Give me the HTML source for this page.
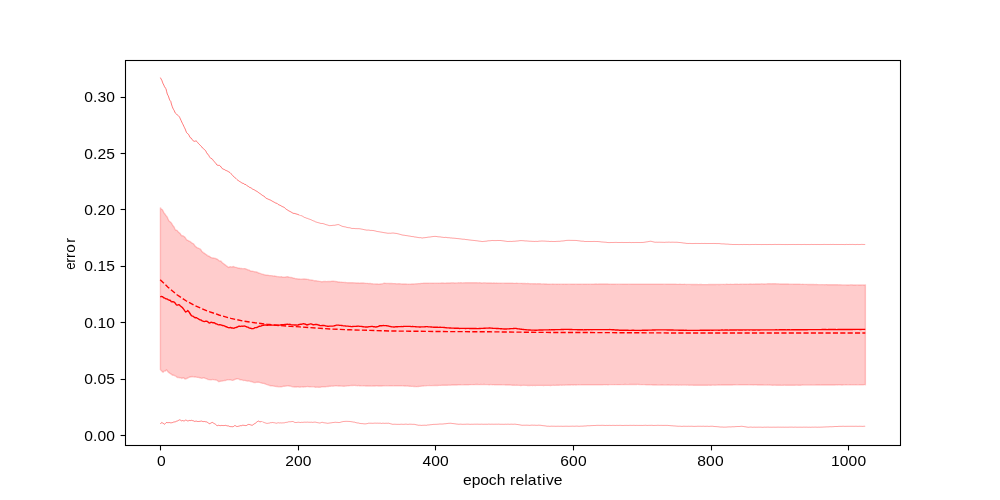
<!DOCTYPE html>
<html><head><meta charset="utf-8"><title>plot</title>
<style>
html,body{margin:0;padding:0;background:#fff;}
body{width:1000px;height:500px;overflow:hidden;font-family:"Liberation Sans",sans-serif;}
svg{display:block;will-change:transform;}
text{font-family:"Liberation Sans",sans-serif;fill:#000;filter:grayscale(1);}
</style></head><body>
<svg width="1000" height="500" viewBox="0 0 1000 500">
<rect x="0" y="0" width="1000" height="500" fill="#ffffff"/>
<polygon points="160.40,207.40 161.09,209.01 161.78,209.30 162.47,209.87 163.15,211.16 163.84,212.55 164.53,213.53 165.22,214.45 165.91,215.45 166.60,216.22 167.28,217.20 167.97,218.80 168.66,220.29 169.35,221.28 170.04,221.80 170.73,222.37 171.42,223.11 172.10,224.21 172.79,225.57 173.48,226.32 174.17,227.15 174.86,228.77 175.55,229.99 176.23,230.29 176.92,230.37 177.61,231.12 178.30,232.09 178.99,232.60 179.68,233.01 180.37,233.86 181.05,235.05 181.74,235.71 182.43,235.66 183.12,235.97 183.81,236.41 184.50,236.77 185.19,237.59 185.87,238.71 186.56,239.75 187.25,240.06 187.94,240.25 188.63,240.99 189.32,241.30 190.00,241.41 190.69,241.99 191.38,242.57 192.07,243.08 192.76,243.44 193.45,243.74 194.14,244.65 194.82,245.73 195.51,246.40 196.20,246.97 196.89,247.58 197.58,247.87 198.27,248.05 198.95,248.41 199.64,248.74 200.33,249.15 201.02,249.94 201.71,251.10 202.40,251.92 203.09,252.41 203.77,252.99 204.46,253.35 205.15,253.85 205.84,254.40 206.53,254.70 207.22,255.40 207.90,255.91 208.59,255.98 209.28,256.31 209.97,256.83 210.66,257.33 211.35,257.62 212.04,257.86 212.72,258.03 213.41,257.97 214.10,258.07 214.79,258.38 215.48,258.47 216.17,258.74 216.86,259.02 217.54,259.31 218.23,259.96 218.92,260.64 219.61,260.93 220.30,260.98 220.99,261.22 221.67,261.93 222.36,262.69 223.05,263.21 223.74,263.75 224.43,264.36 225.12,264.85 225.81,265.41 226.49,265.95 227.18,266.30 227.87,266.97 228.56,267.37 229.25,267.12 229.94,266.70 230.62,266.72 231.31,266.92 232.00,266.94 232.69,266.70 233.38,266.58 234.07,266.79 234.76,267.16 235.44,267.34 236.13,267.41 236.82,267.57 237.51,267.84 238.20,268.05 238.89,268.10 239.57,268.28 240.26,268.48 240.95,268.44 241.64,268.47 242.33,268.63 243.02,268.66 243.71,268.67 244.39,268.60 245.08,268.61 245.77,268.90 246.46,269.23 247.15,269.49 247.84,269.72 248.53,269.89 249.21,270.13 249.90,270.62 250.59,271.04 251.28,271.12 251.97,271.11 252.66,271.27 253.34,271.38 254.03,271.57 254.72,271.83 255.41,271.84 256.10,271.83 256.79,272.09 257.48,272.43 258.16,272.75 258.85,273.01 259.54,273.16 260.23,273.43 260.92,273.68 261.61,273.89 262.29,274.19 262.98,274.36 263.67,274.54 264.36,274.78 265.05,274.93 265.74,275.02 266.43,275.19 267.11,275.24 267.80,275.25 268.49,275.34 269.18,275.50 269.87,275.60 270.56,275.59 271.24,275.65 271.93,275.68 272.62,275.84 273.31,276.13 274.00,276.05 274.69,276.03 275.38,276.24 276.06,276.33 276.75,276.49 277.44,276.65 278.13,276.65 278.82,276.70 279.51,276.84 280.19,276.88 280.88,276.78 281.57,276.80 282.26,276.98 282.95,277.12 283.64,277.19 284.33,277.22 285.01,277.12 285.70,276.98 286.39,276.87 287.08,276.77 287.77,276.78 288.46,276.97 289.15,277.24 289.83,277.41 290.52,277.46 291.21,277.50 291.90,277.61 292.59,277.85 293.28,278.09 293.96,278.21 294.65,278.37 295.34,278.65 296.03,278.79 296.72,278.76 297.41,278.82 298.10,278.96 298.78,279.00 299.47,279.02 300.16,279.07 300.85,279.14 301.54,279.19 302.23,279.14 302.91,279.05 303.60,279.01 304.29,278.96 304.98,279.01 305.67,279.11 306.36,279.19 307.05,279.33 307.73,279.41 308.42,279.53 309.11,279.71 309.80,279.82 310.49,279.92 311.18,280.01 311.86,280.12 312.55,280.26 313.24,280.45 313.93,280.67 314.62,280.79 315.31,280.78 316.00,280.72 316.68,280.86 317.37,281.05 318.06,281.14 318.75,281.28 319.44,281.35 320.13,281.38 320.82,281.57 321.50,281.75 322.19,281.71 322.88,281.58 323.57,281.52 324.26,281.46 324.95,281.39 325.63,281.48 326.32,281.62 327.01,281.57 327.70,281.48 328.39,281.50 329.08,281.49 329.77,281.45 330.45,281.45 331.14,281.37 331.83,281.31 332.52,281.29 333.21,281.21 333.90,281.29 334.58,281.43 335.27,281.47 335.96,281.54 336.65,281.60 337.34,281.76 338.03,281.97 338.72,281.99 339.40,282.00 340.09,282.08 340.78,282.13 341.47,282.20 342.16,282.31 342.85,282.35 343.53,282.34 344.22,282.43 344.91,282.49 345.60,282.53 346.29,282.61 346.98,282.65 347.67,282.73 348.35,282.76 349.04,282.74 349.73,282.75 350.42,282.72 351.11,282.66 351.80,282.69 352.48,282.75 353.17,282.79 353.86,282.83 354.55,282.84 355.24,282.87 355.93,283.00 356.62,283.05 357.30,282.95 357.99,282.92 358.68,282.99 359.37,283.08 360.06,283.08 360.75,282.96 361.44,282.94 362.12,282.97 362.81,282.99 363.50,283.06 364.19,283.16 364.88,283.25 365.57,283.37 366.25,283.41 366.94,283.34 367.63,283.35 368.32,283.47 369.01,283.57 369.70,283.53 370.39,283.53 371.07,283.64 371.76,283.72 372.45,283.78 373.14,283.88 373.83,283.92 374.52,283.91 375.20,283.92 375.89,283.97 376.58,283.98 377.27,283.98 377.96,284.05 378.65,284.10 379.34,284.07 380.02,284.02 380.71,284.01 381.40,283.92 382.09,283.81 382.78,283.67 383.47,283.44 384.15,283.28 384.84,283.28 385.53,283.36 386.22,283.39 386.91,283.43 387.60,283.42 388.29,283.38 388.97,283.47 389.66,283.56 390.35,283.47 391.04,283.42 391.73,283.49 392.42,283.56 393.11,283.59 393.79,283.60 394.48,283.59 395.17,283.60 395.86,283.73 396.55,283.85 397.24,283.82 397.92,283.75 398.61,283.73 399.30,283.72 399.99,283.81 400.68,283.87 401.37,283.88 402.06,283.94 402.74,284.00 403.43,284.04 404.12,284.05 404.81,284.01 405.50,283.97 406.19,283.99 406.87,284.08 407.56,284.15 408.25,284.21 408.94,284.24 409.63,284.15 410.32,284.10 411.01,284.08 411.69,284.04 412.38,284.00 413.07,283.97 413.76,283.96 414.45,283.91 415.14,283.87 415.82,283.84 416.51,283.78 417.20,283.69 417.89,283.65 418.58,283.62 419.27,283.61 419.96,283.57 420.64,283.45 421.33,283.36 422.02,283.36 422.71,283.33 423.40,283.27 424.09,283.24 424.77,283.22 425.46,283.20 426.15,283.24 426.84,283.26 427.53,283.23 428.22,283.21 428.91,283.22 429.59,283.16 430.28,283.10 430.97,283.14 431.66,283.21 432.35,283.27 433.04,283.29 433.73,283.24 434.41,283.16 435.10,283.12 435.79,283.14 436.48,283.19 437.17,283.17 437.86,283.11 438.54,283.11 439.23,283.17 439.92,283.18 440.61,283.11 441.30,283.04 441.99,283.02 442.68,283.01 443.36,283.03 444.05,283.07 444.74,283.09 445.43,283.09 446.12,283.06 446.81,283.01 447.49,282.99 448.18,282.97 448.87,282.99 449.56,283.01 450.25,282.94 450.94,282.87 451.63,282.87 452.31,282.86 453.00,282.83 453.69,282.86 454.38,282.95 455.07,282.96 455.76,282.91 456.44,282.92 457.13,282.90 457.82,282.83 458.51,282.82 459.20,282.83 459.89,282.80 460.58,282.75 461.26,282.78 461.95,282.85 462.64,282.88 463.33,282.86 464.02,282.82 464.71,282.83 465.40,282.78 466.08,282.72 466.77,282.73 467.46,282.73 468.15,282.72 468.84,282.73 469.53,282.75 470.21,282.74 470.90,282.74 471.59,282.77 472.28,282.76 472.97,282.77 473.66,282.80 474.35,282.77 475.03,282.74 475.72,282.74 476.41,282.73 477.10,282.80 477.79,282.86 478.48,282.83 479.16,282.80 479.85,282.80 480.54,282.84 481.23,282.93 481.92,282.93 482.61,282.88 483.30,282.87 483.98,282.86 484.67,282.86 485.36,282.86 486.05,282.89 486.74,282.95 487.43,282.99 488.11,282.99 488.80,282.95 489.49,282.93 490.18,282.95 490.87,282.98 491.56,283.03 492.25,283.07 492.93,283.06 493.62,283.01 494.31,282.99 495.00,283.08 495.69,283.10 496.38,283.05 497.07,283.08 497.75,283.12 498.44,283.12 499.13,283.15 499.82,283.12 500.51,283.11 501.20,283.18 501.88,283.17 502.57,283.16 503.26,283.16 503.95,283.16 504.64,283.20 505.33,283.21 506.02,283.20 506.70,283.22 507.39,283.25 508.08,283.26 508.77,283.25 509.46,283.26 510.15,283.26 510.83,283.24 511.52,283.25 512.21,283.24 512.90,283.27 513.59,283.33 514.28,283.35 514.97,283.37 515.65,283.36 516.34,283.29 517.03,283.27 517.72,283.32 518.41,283.38 519.10,283.38 519.78,283.39 520.47,283.40 521.16,283.36 521.85,283.37 522.54,283.48 523.23,283.56 523.92,283.53 524.60,283.49 525.29,283.54 525.98,283.59 526.67,283.59 527.36,283.56 528.05,283.56 528.73,283.60 529.42,283.66 530.11,283.73 530.80,283.74 531.49,283.67 532.18,283.65 532.87,283.69 533.55,283.71 534.24,283.75 534.93,283.78 535.62,283.80 536.31,283.83 537.00,283.80 537.69,283.75 538.37,283.74 539.06,283.77 539.75,283.78 540.44,283.81 541.13,283.89 541.82,283.92 542.50,283.90 543.19,283.88 543.88,283.87 544.57,283.95 545.26,284.00 545.95,283.96 546.64,284.00 547.32,284.07 548.01,284.07 548.70,284.07 549.39,284.09 550.08,284.09 550.77,284.13 551.45,284.14 552.14,284.08 552.83,284.07 553.52,284.12 554.21,284.17 554.90,284.19 555.59,284.15 556.27,284.09 556.96,284.08 557.65,284.12 558.34,284.13 559.03,284.10 559.72,284.12 560.40,284.16 561.09,284.16 561.78,284.13 562.47,284.12 563.16,284.11 563.85,284.11 564.54,284.16 565.22,284.25 565.91,284.29 566.60,284.23 567.29,284.19 567.98,284.18 568.67,284.15 569.36,284.15 570.04,284.17 570.73,284.23 571.42,284.25 572.11,284.20 572.80,284.19 573.49,284.22 574.17,284.22 574.86,284.20 575.55,284.18 576.24,284.15 576.93,284.19 577.62,284.24 578.31,284.22 578.99,284.19 579.68,284.18 580.37,284.21 581.06,284.21 581.75,284.18 582.44,284.17 583.12,284.21 583.81,284.23 584.50,284.21 585.19,284.21 585.88,284.23 586.57,284.22 587.26,284.16 587.94,284.11 588.63,284.10 589.32,284.11 590.01,284.14 590.70,284.13 591.39,284.10 592.07,284.07 592.76,284.07 593.45,284.09 594.14,284.08 594.83,284.05 595.52,284.03 596.21,284.01 596.89,284.04 597.58,284.08 598.27,284.06 598.96,284.00 599.65,283.97 600.34,283.98 601.02,284.04 601.71,284.05 602.40,283.98 603.09,283.96 603.78,283.99 604.47,283.98 605.16,283.97 605.84,284.02 606.53,284.04 607.22,284.01 607.91,284.05 608.60,284.11 609.29,284.10 609.98,284.11 610.66,284.15 611.35,284.12 612.04,284.08 612.73,284.09 613.42,284.09 614.11,284.09 614.79,284.09 615.48,284.11 616.17,284.13 616.86,284.16 617.55,284.18 618.24,284.16 618.93,284.16 619.61,284.15 620.30,284.11 620.99,284.15 621.68,284.19 622.37,284.20 623.06,284.27 623.74,284.31 624.43,284.26 625.12,284.22 625.81,284.23 626.50,284.22 627.19,284.19 627.88,284.22 628.56,284.18 629.25,284.12 629.94,284.15 630.63,284.21 631.32,284.24 632.01,284.25 632.69,284.27 633.38,284.26 634.07,284.22 634.76,284.20 635.45,284.26 636.14,284.30 636.83,284.25 637.51,284.19 638.20,284.24 638.89,284.31 639.58,284.29 640.27,284.25 640.96,284.27 641.65,284.29 642.33,284.27 643.02,284.23 643.71,284.22 644.40,284.27 645.09,284.31 645.78,284.30 646.46,284.31 647.15,284.30 647.84,284.28 648.53,284.28 649.22,284.29 649.91,284.31 650.60,284.28 651.28,284.25 651.97,284.25 652.66,284.26 653.35,284.27 654.04,284.27 654.73,284.24 655.41,284.21 656.10,284.25 656.79,284.27 657.48,284.24 658.17,284.27 658.86,284.26 659.55,284.20 660.23,284.18 660.92,284.21 661.61,284.20 662.30,284.20 662.99,284.21 663.68,284.17 664.36,284.14 665.05,284.15 665.74,284.19 666.43,284.23 667.12,284.23 667.81,284.22 668.50,284.21 669.18,284.21 669.87,284.24 670.56,284.29 671.25,284.25 671.94,284.17 672.63,284.21 673.32,284.27 674.00,284.24 674.69,284.25 675.38,284.27 676.07,284.28 676.76,284.34 677.45,284.36 678.13,284.33 678.82,284.33 679.51,284.30 680.20,284.29 680.89,284.34 681.58,284.35 682.27,284.36 682.95,284.36 683.64,284.32 684.33,284.31 685.02,284.35 685.71,284.41 686.40,284.45 687.08,284.42 687.77,284.39 688.46,284.41 689.15,284.42 689.84,284.38 690.53,284.40 691.22,284.47 691.90,284.50 692.59,284.50 693.28,284.50 693.97,284.50 694.66,284.50 695.35,284.48 696.03,284.47 696.72,284.48 697.41,284.54 698.10,284.60 698.79,284.58 699.48,284.54 700.17,284.54 700.85,284.54 701.54,284.56 702.23,284.58 702.92,284.60 703.61,284.60 704.30,284.59 704.98,284.61 705.67,284.61 706.36,284.57 707.05,284.57 707.74,284.58 708.43,284.55 709.12,284.51 709.80,284.50 710.49,284.53 711.18,284.50 711.87,284.48 712.56,284.49 713.25,284.48 713.94,284.51 714.62,284.54 715.31,284.51 716.00,284.47 716.69,284.40 717.38,284.41 718.07,284.47 718.75,284.45 719.44,284.45 720.13,284.47 720.82,284.43 721.51,284.40 722.20,284.40 722.89,284.38 723.57,284.36 724.26,284.38 724.95,284.43 725.64,284.38 726.33,284.26 727.02,284.26 727.70,284.34 728.39,284.35 729.08,284.35 729.77,284.33 730.46,284.31 731.15,284.33 731.84,284.35 732.52,284.33 733.21,284.33 733.90,284.32 734.59,284.28 735.28,284.27 735.97,284.29 736.65,284.26 737.34,284.24 738.03,284.29 738.72,284.32 739.41,284.30 740.10,284.26 740.79,284.22 741.47,284.19 742.16,284.17 742.85,284.18 743.54,284.18 744.23,284.18 744.92,284.19 745.61,284.12 746.29,284.08 746.98,284.12 747.67,284.15 748.36,284.12 749.05,284.07 749.74,284.05 750.42,284.02 751.11,284.03 751.80,284.08 752.49,284.10 753.18,284.07 753.87,284.06 754.56,284.07 755.24,283.98 755.93,283.91 756.62,283.95 757.31,283.99 758.00,283.98 758.69,283.95 759.37,283.98 760.06,283.99 760.75,283.91 761.44,283.85 762.13,283.84 762.82,283.89 763.51,283.93 764.19,283.93 764.88,283.93 765.57,283.91 766.26,283.89 766.95,283.85 767.64,283.80 768.32,283.78 769.01,283.78 769.70,283.78 770.39,283.81 771.08,283.83 771.77,283.78 772.46,283.72 773.14,283.75 773.83,283.80 774.52,283.79 775.21,283.79 775.90,283.81 776.59,283.85 777.27,283.87 777.96,283.84 778.65,283.84 779.34,283.91 780.03,283.94 780.72,283.94 781.41,283.95 782.09,283.99 782.78,284.03 783.47,284.03 784.16,283.99 784.85,283.99 785.54,284.02 786.23,284.05 786.91,284.05 787.60,284.00 788.29,283.99 788.98,284.07 789.67,284.14 790.36,284.17 791.04,284.20 791.73,284.18 792.42,284.17 793.11,284.19 793.80,284.21 794.49,284.23 795.18,284.24 795.86,284.24 796.55,284.25 797.24,284.23 797.93,284.21 798.62,284.21 799.31,284.22 799.99,284.30 800.68,284.39 801.37,284.42 802.06,284.37 802.75,284.31 803.44,284.34 804.13,284.40 804.81,284.40 805.50,284.38 806.19,284.36 806.88,284.40 807.57,284.46 808.26,284.46 808.94,284.44 809.63,284.42 810.32,284.44 811.01,284.50 811.70,284.52 812.39,284.50 813.08,284.50 813.76,284.51 814.45,284.56 815.14,284.58 815.83,284.54 816.52,284.56 817.21,284.59 817.90,284.60 818.58,284.66 819.27,284.67 819.96,284.63 820.65,284.66 821.34,284.67 822.03,284.62 822.71,284.63 823.40,284.65 824.09,284.66 824.78,284.68 825.47,284.65 826.16,284.61 826.85,284.62 827.53,284.69 828.22,284.73 828.91,284.73 829.60,284.72 830.29,284.75 830.98,284.80 831.66,284.78 832.35,284.74 833.04,284.77 833.73,284.81 834.42,284.79 835.11,284.78 835.80,284.79 836.48,284.80 837.17,284.81 837.86,284.81 838.55,284.85 839.24,284.85 839.93,284.82 840.61,284.84 841.30,284.84 841.99,284.90 842.68,284.92 843.37,284.89 844.06,284.90 844.75,284.92 845.43,284.90 846.12,284.90 846.81,284.95 847.50,284.96 848.19,284.92 848.88,284.93 849.57,284.91 850.25,284.85 850.94,284.84 851.63,284.83 852.32,284.86 853.01,284.96 853.70,284.99 854.38,284.97 855.07,284.95 855.76,284.94 856.45,284.92 857.14,284.91 857.83,284.92 858.52,284.96 859.20,284.98 859.89,284.96 860.58,284.94 861.27,284.94 861.96,284.92 862.65,284.92 863.33,284.95 864.02,284.95 864.71,284.94 865.40,284.95 865.40,384.75 864.71,384.67 864.02,384.68 863.33,384.72 862.65,384.74 861.96,384.77 861.27,384.78 860.58,384.75 859.89,384.74 859.20,384.77 858.52,384.82 857.83,384.85 857.14,384.82 856.45,384.78 855.76,384.78 855.07,384.81 854.38,384.84 853.70,384.81 853.01,384.82 852.32,384.88 851.63,384.87 850.94,384.81 850.25,384.75 849.57,384.77 848.88,384.82 848.19,384.85 847.50,384.86 846.81,384.89 846.12,384.92 845.43,384.90 844.75,384.83 844.06,384.83 843.37,384.89 842.68,384.97 841.99,384.99 841.30,384.94 840.61,384.90 839.93,384.90 839.24,384.90 838.55,384.89 837.86,384.92 837.17,384.93 836.48,384.89 835.80,384.92 835.11,385.01 834.42,385.01 833.73,384.97 833.04,384.95 832.35,384.95 831.66,384.97 830.98,384.99 830.29,385.01 829.60,384.99 828.91,384.99 828.22,385.02 827.53,385.02 826.85,385.02 826.16,385.02 825.47,385.00 824.78,385.01 824.09,385.03 823.40,385.02 822.71,385.00 822.03,385.00 821.34,385.04 820.65,385.07 819.96,385.05 819.27,385.04 818.58,385.06 817.90,385.04 817.21,385.01 816.52,384.98 815.83,385.03 815.14,385.09 814.45,385.08 813.76,385.08 813.08,385.10 812.39,385.09 811.70,385.07 811.01,385.05 810.32,385.07 809.63,385.10 808.94,385.12 808.26,385.12 807.57,385.10 806.88,385.10 806.19,385.12 805.50,385.11 804.81,385.09 804.13,385.08 803.44,385.07 802.75,385.06 802.06,385.12 801.37,385.18 800.68,385.19 799.99,385.19 799.31,385.19 798.62,385.19 797.93,385.20 797.24,385.18 796.55,385.15 795.86,385.16 795.18,385.19 794.49,385.20 793.80,385.18 793.11,385.18 792.42,385.20 791.73,385.22 791.04,385.22 790.36,385.22 789.67,385.23 788.98,385.25 788.29,385.23 787.60,385.22 786.91,385.23 786.23,385.21 785.54,385.20 784.85,385.18 784.16,385.16 783.47,385.20 782.78,385.26 782.09,385.32 781.41,385.32 780.72,385.26 780.03,385.24 779.34,385.25 778.65,385.27 777.96,385.28 777.27,385.27 776.59,385.24 775.90,385.19 775.21,385.16 774.52,385.14 773.83,385.16 773.14,385.22 772.46,385.21 771.77,385.16 771.08,385.14 770.39,385.10 769.70,385.05 769.01,385.08 768.32,385.10 767.64,385.06 766.95,385.07 766.26,385.08 765.57,385.08 764.88,385.09 764.19,385.09 763.51,385.06 762.82,385.00 762.13,384.95 761.44,384.92 760.75,384.95 760.06,384.97 759.37,384.96 758.69,384.98 758.00,385.00 757.31,384.98 756.62,384.93 755.93,384.90 755.24,384.91 754.56,384.91 753.87,384.91 753.18,384.93 752.49,384.92 751.80,384.89 751.11,384.89 750.42,384.88 749.74,384.87 749.05,384.89 748.36,384.86 747.67,384.77 746.98,384.76 746.29,384.77 745.61,384.74 744.92,384.74 744.23,384.74 743.54,384.73 742.85,384.72 742.16,384.72 741.47,384.72 740.79,384.69 740.10,384.72 739.41,384.77 738.72,384.79 738.03,384.82 737.34,384.86 736.65,384.86 735.97,384.86 735.28,384.89 734.59,384.90 733.90,384.89 733.21,384.91 732.52,384.95 731.84,384.95 731.15,384.94 730.46,384.92 729.77,384.94 729.08,385.00 728.39,385.02 727.70,384.95 727.02,384.92 726.33,384.95 725.64,384.95 724.95,384.96 724.26,385.00 723.57,385.00 722.89,384.96 722.20,384.96 721.51,385.00 720.82,385.05 720.13,385.07 719.44,385.03 718.75,385.02 718.07,385.04 717.38,385.08 716.69,385.12 716.00,385.13 715.31,385.14 714.62,385.15 713.94,385.13 713.25,385.09 712.56,385.11 711.87,385.15 711.18,385.20 710.49,385.24 709.80,385.22 709.12,385.16 708.43,385.17 707.74,385.23 707.05,385.28 706.36,385.29 705.67,385.28 704.98,385.27 704.30,385.22 703.61,385.22 702.92,385.22 702.23,385.18 701.54,385.18 700.85,385.20 700.17,385.19 699.48,385.20 698.79,385.23 698.10,385.23 697.41,385.20 696.72,385.19 696.03,385.21 695.35,385.19 694.66,385.18 693.97,385.21 693.28,385.20 692.59,385.18 691.90,385.16 691.22,385.17 690.53,385.17 689.84,385.18 689.15,385.20 688.46,385.18 687.77,385.12 687.08,385.12 686.40,385.14 685.71,385.12 685.02,385.11 684.33,385.12 683.64,385.10 682.95,385.08 682.27,385.12 681.58,385.13 680.89,385.09 680.20,385.08 679.51,385.11 678.82,385.15 678.13,385.15 677.45,385.10 676.76,385.05 676.07,385.10 675.38,385.15 674.69,385.12 674.00,385.10 673.32,385.09 672.63,385.07 671.94,385.06 671.25,385.12 670.56,385.14 669.87,385.07 669.18,385.03 668.50,385.05 667.81,385.05 667.12,385.06 666.43,385.07 665.74,385.08 665.05,385.08 664.36,385.09 663.68,385.09 662.99,385.06 662.30,385.02 661.61,385.01 660.92,385.04 660.23,385.07 659.55,385.07 658.86,385.07 658.17,385.07 657.48,385.07 656.79,385.06 656.10,385.01 655.41,385.00 654.73,385.02 654.04,384.97 653.35,384.93 652.66,384.95 651.97,384.92 651.28,384.89 650.60,384.86 649.91,384.79 649.22,384.77 648.53,384.78 647.84,384.78 647.15,384.79 646.46,384.75 645.78,384.69 645.09,384.66 644.40,384.62 643.71,384.59 643.02,384.60 642.33,384.65 641.65,384.66 640.96,384.62 640.27,384.58 639.58,384.56 638.89,384.51 638.20,384.41 637.51,384.37 636.83,384.45 636.14,384.49 635.45,384.43 634.76,384.45 634.07,384.54 633.38,384.56 632.69,384.52 632.01,384.51 631.32,384.51 630.63,384.50 629.94,384.52 629.25,384.55 628.56,384.59 627.88,384.62 627.19,384.61 626.50,384.58 625.81,384.56 625.12,384.53 624.43,384.56 623.74,384.63 623.06,384.62 622.37,384.61 621.68,384.61 620.99,384.62 620.30,384.65 619.61,384.67 618.93,384.65 618.24,384.64 617.55,384.64 616.86,384.63 616.17,384.62 615.48,384.61 614.79,384.63 614.11,384.64 613.42,384.62 612.73,384.61 612.04,384.64 611.35,384.62 610.66,384.60 609.98,384.61 609.29,384.61 608.60,384.69 607.91,384.73 607.22,384.69 606.53,384.66 605.84,384.68 605.16,384.69 604.47,384.66 603.78,384.67 603.09,384.73 602.40,384.75 601.71,384.73 601.02,384.72 600.34,384.72 599.65,384.69 598.96,384.71 598.27,384.74 597.58,384.73 596.89,384.71 596.21,384.71 595.52,384.68 594.83,384.69 594.14,384.74 593.45,384.76 592.76,384.74 592.07,384.69 591.39,384.68 590.70,384.72 590.01,384.74 589.32,384.75 588.63,384.75 587.94,384.77 587.26,384.79 586.57,384.78 585.88,384.76 585.19,384.75 584.50,384.72 583.81,384.73 583.12,384.76 582.44,384.77 581.75,384.75 581.06,384.77 580.37,384.84 579.68,384.84 578.99,384.80 578.31,384.79 577.62,384.82 576.93,384.90 576.24,384.97 575.55,384.94 574.86,384.88 574.17,384.92 573.49,384.97 572.80,384.94 572.11,384.90 571.42,384.92 570.73,384.98 570.04,385.05 569.36,385.06 568.67,384.99 567.98,384.98 567.29,385.06 566.60,385.08 565.91,385.06 565.22,385.10 564.54,385.15 563.85,385.14 563.16,385.12 562.47,385.15 561.78,385.18 561.09,385.14 560.40,385.11 559.72,385.14 559.03,385.23 558.34,385.30 557.65,385.27 556.96,385.24 556.27,385.30 555.59,385.37 554.90,385.38 554.21,385.34 553.52,385.32 552.83,385.33 552.14,385.35 551.45,385.41 550.77,385.45 550.08,385.44 549.39,385.41 548.70,385.39 548.01,385.40 547.32,385.42 546.64,385.42 545.95,385.42 545.26,385.42 544.57,385.41 543.88,385.45 543.19,385.46 542.50,385.40 541.82,385.40 541.13,385.38 540.44,385.38 539.75,385.40 539.06,385.40 538.37,385.39 537.69,385.39 537.00,385.39 536.31,385.42 535.62,385.45 534.93,385.45 534.24,385.41 533.55,385.40 532.87,385.45 532.18,385.46 531.49,385.40 530.80,385.40 530.11,385.46 529.42,385.48 528.73,385.48 528.05,385.47 527.36,385.45 526.67,385.40 525.98,385.37 525.29,385.40 524.60,385.36 523.92,385.31 523.23,385.33 522.54,385.37 521.85,385.43 521.16,385.46 520.47,385.44 519.78,385.41 519.10,385.37 518.41,385.36 517.72,385.34 517.03,385.27 516.34,385.28 515.65,385.35 514.97,385.30 514.28,385.23 513.59,385.22 512.90,385.21 512.21,385.21 511.52,385.15 510.83,385.09 510.15,385.04 509.46,385.02 508.77,384.99 508.08,384.97 507.39,384.97 506.70,385.00 506.02,385.01 505.33,384.94 504.64,384.84 503.95,384.80 503.26,384.83 502.57,384.82 501.88,384.80 501.20,384.80 500.51,384.77 499.82,384.72 499.13,384.72 498.44,384.77 497.75,384.77 497.07,384.73 496.38,384.70 495.69,384.71 495.00,384.75 494.31,384.73 493.62,384.67 492.93,384.68 492.25,384.68 491.56,384.62 490.87,384.57 490.18,384.61 489.49,384.69 488.80,384.69 488.11,384.60 487.43,384.58 486.74,384.60 486.05,384.59 485.36,384.59 484.67,384.56 483.98,384.52 483.30,384.53 482.61,384.59 481.92,384.59 481.23,384.56 480.54,384.56 479.85,384.59 479.16,384.63 478.48,384.60 477.79,384.54 477.10,384.51 476.41,384.52 475.72,384.55 475.03,384.60 474.35,384.64 473.66,384.67 472.97,384.63 472.28,384.60 471.59,384.62 470.90,384.64 470.21,384.67 469.53,384.67 468.84,384.70 468.15,384.77 467.46,384.80 466.77,384.79 466.08,384.79 465.40,384.77 464.71,384.76 464.02,384.81 463.33,384.85 462.64,384.86 461.95,384.87 461.26,384.87 460.58,384.89 459.89,384.91 459.20,384.92 458.51,384.92 457.82,384.92 457.13,384.96 456.44,385.02 455.76,385.00 455.07,384.94 454.38,384.96 453.69,385.03 453.00,385.06 452.31,385.03 451.63,385.05 450.94,385.13 450.25,385.17 449.56,385.15 448.87,385.16 448.18,385.18 447.49,385.20 446.81,385.21 446.12,385.25 445.43,385.28 444.74,385.31 444.05,385.31 443.36,385.26 442.68,385.23 441.99,385.26 441.30,385.35 440.61,385.39 439.92,385.38 439.23,385.37 438.54,385.38 437.86,385.45 437.17,385.51 436.48,385.52 435.79,385.50 435.10,385.50 434.41,385.54 433.73,385.58 433.04,385.56 432.35,385.57 431.66,385.61 430.97,385.64 430.28,385.60 429.59,385.55 428.91,385.58 428.22,385.61 427.53,385.59 426.84,385.60 426.15,385.73 425.46,385.84 424.77,385.85 424.09,385.87 423.40,385.98 422.71,386.06 422.02,386.08 421.33,386.17 420.64,386.28 419.96,386.35 419.27,386.40 418.58,386.44 417.89,386.49 417.20,386.58 416.51,386.66 415.82,386.59 415.14,386.54 414.45,386.53 413.76,386.45 413.07,386.36 412.38,386.36 411.69,386.39 411.01,386.32 410.32,386.22 409.63,386.23 408.94,386.22 408.25,386.11 407.56,386.06 406.87,386.09 406.19,386.06 405.50,385.98 404.81,385.95 404.12,385.94 403.43,385.88 402.74,385.82 402.06,385.80 401.37,385.76 400.68,385.71 399.99,385.69 399.30,385.76 398.61,385.79 397.92,385.76 397.24,385.75 396.55,385.77 395.86,385.74 395.17,385.70 394.48,385.73 393.79,385.82 393.11,385.82 392.42,385.75 391.73,385.75 391.04,385.78 390.35,385.79 389.66,385.78 388.97,385.76 388.29,385.82 387.60,385.86 386.91,385.81 386.22,385.82 385.53,385.82 384.84,385.81 384.15,385.85 383.47,385.88 382.78,385.92 382.09,385.97 381.40,386.01 380.71,385.97 380.02,385.98 379.34,386.00 378.65,385.95 377.96,385.94 377.27,385.93 376.58,385.88 375.89,385.90 375.20,385.99 374.52,386.01 373.83,385.95 373.14,385.96 372.45,386.05 371.76,386.11 371.07,386.09 370.39,386.05 369.70,386.06 369.01,386.07 368.32,385.97 367.63,385.92 366.94,385.97 366.25,385.98 365.57,385.94 364.88,385.87 364.19,385.81 363.50,385.81 362.81,385.83 362.12,385.83 361.44,385.85 360.75,385.80 360.06,385.79 359.37,385.75 358.68,385.57 357.99,385.58 357.30,385.68 356.62,385.59 355.93,385.53 355.24,385.53 354.55,385.43 353.86,385.40 353.17,385.47 352.48,385.47 351.80,385.41 351.11,385.46 350.42,385.57 349.73,385.63 349.04,385.70 348.35,385.81 347.67,385.81 346.98,385.82 346.29,385.98 345.60,386.10 344.91,386.13 344.22,386.18 343.53,386.18 342.85,386.16 342.16,386.13 341.47,386.10 340.78,386.08 340.09,386.01 339.40,385.95 338.72,385.95 338.03,385.94 337.34,385.86 336.65,385.81 335.96,385.79 335.27,385.80 334.58,385.86 333.90,386.01 333.21,386.13 332.52,386.13 331.83,386.10 331.14,386.13 330.45,386.21 329.77,386.25 329.08,386.29 328.39,386.45 327.70,386.53 327.01,386.51 326.32,386.58 325.63,386.70 324.95,386.74 324.26,386.71 323.57,386.73 322.88,386.76 322.19,386.79 321.50,386.93 320.82,387.14 320.13,387.26 319.44,387.25 318.75,387.22 318.06,387.22 317.37,387.13 316.68,387.16 316.00,387.28 315.31,387.20 314.62,386.99 313.93,386.86 313.24,386.83 312.55,386.85 311.86,386.84 311.18,386.81 310.49,386.74 309.80,386.65 309.11,386.70 308.42,386.68 307.73,386.55 307.05,386.58 306.36,386.65 305.67,386.77 304.98,386.92 304.29,386.93 303.60,386.95 302.91,387.02 302.23,386.91 301.54,386.84 300.85,386.98 300.16,387.14 299.47,387.15 298.78,387.03 298.10,386.93 297.41,386.90 296.72,386.96 296.03,387.04 295.34,387.01 294.65,386.98 293.96,386.97 293.28,386.87 292.59,386.80 291.90,386.61 291.21,386.31 290.52,386.17 289.83,386.15 289.15,385.96 288.46,385.78 287.77,385.76 287.08,385.86 286.39,385.94 285.70,386.08 285.01,386.27 284.33,386.30 283.64,386.28 282.95,386.39 282.26,386.62 281.57,386.77 280.88,386.76 280.19,386.78 279.51,386.85 278.82,386.85 278.13,386.73 277.44,386.55 276.75,386.47 276.06,386.48 275.38,386.38 274.69,386.30 274.00,386.19 273.31,386.06 272.62,385.90 271.93,385.80 271.24,385.80 270.56,385.71 269.87,385.54 269.18,385.28 268.49,385.04 267.80,384.82 267.11,384.59 266.43,384.45 265.74,384.18 265.05,383.79 264.36,383.53 263.67,383.43 262.98,383.42 262.29,383.30 261.61,383.05 260.92,382.78 260.23,382.60 259.54,382.44 258.85,382.31 258.16,382.31 257.48,382.31 256.79,382.31 256.10,382.35 255.41,382.49 254.72,382.60 254.03,382.45 253.34,382.30 252.66,382.11 251.97,381.74 251.28,381.49 250.59,381.49 249.90,381.37 249.21,381.06 248.53,381.01 247.84,381.14 247.15,381.06 246.46,380.92 245.77,380.70 245.08,380.42 244.39,380.41 243.71,380.50 243.02,380.32 242.33,380.09 241.64,379.94 240.95,379.80 240.26,379.76 239.57,379.50 238.89,379.07 238.20,378.80 237.51,378.67 236.82,378.78 236.13,379.01 235.44,379.21 234.76,379.44 234.07,379.80 233.38,380.17 232.69,380.40 232.00,380.32 231.31,380.08 230.62,379.88 229.94,379.79 229.25,379.88 228.56,379.86 227.87,379.82 227.18,379.93 226.49,380.12 225.81,380.38 225.12,380.53 224.43,380.54 223.74,380.67 223.05,380.84 222.36,380.94 221.67,381.11 220.99,381.20 220.30,381.13 219.61,381.43 218.92,381.75 218.23,381.24 217.54,380.65 216.86,380.28 216.17,380.11 215.48,379.95 214.79,379.85 214.10,379.80 213.41,379.67 212.72,379.49 212.04,379.59 211.35,379.73 210.66,379.77 209.97,379.84 209.28,379.67 208.59,379.62 207.90,379.50 207.22,379.00 206.53,378.69 205.84,378.57 205.15,378.28 204.46,378.02 203.77,377.88 203.09,377.92 202.40,378.19 201.71,378.37 201.02,378.14 200.33,377.93 199.64,377.73 198.95,377.45 198.27,377.43 197.58,377.38 196.89,377.31 196.20,377.07 195.51,376.81 194.82,377.02 194.14,377.06 193.45,376.86 192.76,376.75 192.07,376.56 191.38,376.77 190.69,376.98 190.00,377.04 189.32,377.24 188.63,377.59 187.94,377.92 187.25,378.32 186.56,378.53 185.87,378.81 185.19,379.08 184.50,378.71 183.81,377.97 183.12,377.72 182.43,378.20 181.74,378.37 181.05,377.83 180.37,377.64 179.68,377.72 178.99,377.53 178.30,377.50 177.61,377.53 176.92,377.17 176.23,376.47 175.55,376.08 174.86,375.77 174.17,375.30 173.48,375.20 172.79,375.31 172.10,375.01 171.42,374.35 170.73,373.79 170.04,373.39 169.35,372.94 168.66,372.42 167.97,371.70 167.28,370.89 166.60,370.00 165.91,370.39 165.22,371.03 164.53,371.09 163.84,371.32 163.15,372.22 162.47,371.98 161.78,371.07 161.09,370.40 160.40,369.60" fill="#ff0000" fill-opacity="0.2" stroke="#ff0000" stroke-opacity="0.2" stroke-width="1.39" stroke-linejoin="miter"/>
<polyline points="160.40,77.60 161.09,79.07 161.78,80.11 162.47,82.16 163.16,83.90 163.84,85.03 164.53,86.78 165.22,87.88 165.91,88.47 166.60,91.38 167.29,94.06 167.98,95.30 168.67,96.90 169.36,99.17 170.05,100.57 170.73,101.30 171.42,104.00 172.11,106.22 172.80,108.03 173.49,109.38 174.18,110.47 174.87,112.18 175.56,113.33 176.25,114.03 176.93,114.63 177.62,115.04 178.31,115.63 179.00,116.38 179.69,117.46 180.38,118.97 181.07,120.45 181.76,122.01 182.45,123.43 183.14,124.74 183.82,126.27 184.51,127.71 185.20,129.06 185.89,130.95 186.58,132.59 187.27,133.39 187.96,133.85 188.65,134.53 189.34,135.89 190.03,137.46 190.71,137.90 191.40,138.24 192.09,139.38 192.78,140.48 193.47,140.92 194.16,141.28 194.85,141.27 195.54,141.03 196.23,140.93 196.91,141.56 197.60,142.44 198.29,143.34 198.98,144.15 199.67,144.73 200.36,145.38 201.05,146.09 201.74,146.86 202.43,147.93 203.12,148.50 203.80,148.90 204.49,149.54 205.18,150.27 205.87,151.17 206.56,152.69 207.25,153.75 207.94,154.22 208.63,155.19 209.32,156.50 210.00,157.49 210.69,158.30 211.38,158.58 212.07,158.78 212.76,159.67 213.45,160.69 214.14,161.43 214.83,162.28 215.52,163.04 216.21,163.89 216.89,164.93 217.58,165.25 218.27,165.36 218.96,165.37 219.65,165.44 220.34,166.01 221.03,166.96 221.72,167.93 222.41,168.72 223.09,169.17 223.78,169.25 224.47,169.59 225.16,170.08 225.85,170.41 226.54,170.66 227.23,170.97 227.92,171.34 228.61,171.76 229.30,172.16 229.98,172.63 230.67,173.43 231.36,174.01 232.05,174.62 232.74,175.55 233.43,176.41 234.12,176.97 234.81,177.54 235.50,178.10 236.18,178.60 236.87,179.40 237.56,180.07 238.25,180.50 238.94,180.99 239.63,181.49 240.32,181.88 241.01,182.25 241.70,182.82 242.39,183.19 243.07,183.30 243.76,183.61 244.45,184.24 245.14,184.50 245.83,184.48 246.52,185.20 247.21,185.95 247.90,186.21 248.59,186.58 249.28,187.18 249.96,187.53 250.65,187.72 251.34,188.11 252.03,188.73 252.72,189.18 253.41,189.45 254.10,189.78 254.79,190.14 255.48,190.63 256.16,191.03 256.85,191.33 257.54,191.78 258.23,192.34 258.92,192.88 259.61,193.32 260.30,193.75 260.99,194.25 261.68,194.80 262.37,195.32 263.05,195.79 263.74,196.05 264.43,196.44 265.12,197.34 265.81,198.11 266.50,198.42 267.19,198.70 267.88,199.00 268.57,199.34 269.25,199.63 269.94,199.87 270.63,200.18 271.32,200.57 272.01,201.00 272.70,201.40 273.39,201.75 274.08,202.13 274.77,202.52 275.46,202.94 276.14,203.24 276.83,203.33 277.52,203.71 278.21,204.43 278.90,204.92 279.59,205.09 280.28,205.33 280.97,205.78 281.66,206.23 282.34,206.57 283.03,206.91 283.72,207.18 284.41,207.57 285.10,208.22 285.79,208.88 286.48,209.41 287.17,209.80 287.86,210.25 288.55,210.71 289.23,211.08 289.92,211.40 290.61,211.77 291.30,212.18 291.99,212.58 292.68,213.00 293.37,213.32 294.06,213.45 294.75,213.45 295.43,213.69 296.12,213.93 296.81,214.11 297.50,214.34 298.19,214.58 298.88,214.87 299.57,215.22" fill="none" stroke="#ff0000" stroke-opacity="0.62" stroke-width="0.85"/>
<polyline points="300.26,215.54 300.95,215.64 301.64,215.77 302.32,216.10 303.01,216.47 303.70,216.93 304.39,217.39 305.08,217.59 305.77,217.81 306.46,218.16 307.15,218.31 307.84,218.49 308.53,218.86 309.21,219.10 309.90,219.30 310.59,219.57 311.28,219.87 311.97,220.21 312.66,220.55 313.35,220.85 314.04,221.04 314.73,221.34 315.41,221.79 316.10,222.03 316.79,222.24 317.48,222.44 318.17,222.63 318.86,222.84 319.55,223.03 320.24,223.27 320.93,223.46 321.62,223.47 322.30,223.47 322.99,223.61 323.68,223.77 324.37,224.00 325.06,224.32 325.75,224.54 326.44,224.74 327.13,224.94 327.82,225.09 328.50,225.35 329.19,225.63 329.88,225.62 330.57,225.59 331.26,225.58 331.95,225.44 332.64,225.38 333.33,225.30 334.02,225.26 334.71,225.27 335.39,225.11 336.08,224.89 336.77,224.83 337.46,224.66 338.15,224.50 338.84,224.76 339.53,225.02 340.22,225.33 340.91,225.70 341.59,226.02 342.28,226.30 342.97,226.50 343.66,226.63 344.35,226.75 345.04,226.87 345.73,227.01 346.42,227.25 347.11,227.47 347.80,227.60 348.48,227.68 349.17,227.72 349.86,227.81 350.55,228.00 351.24,228.26 351.93,228.45 352.62,228.48 353.31,228.45 354.00,228.45 354.69,228.55 355.37,228.63 356.06,228.64 356.75,228.65 357.44,228.68 358.13,228.68 358.82,228.68 359.51,228.74 360.20,228.83 360.89,228.98 361.57,229.12 362.26,229.23 362.95,229.36 363.64,229.52 364.33,229.70 365.02,229.83 365.71,229.93 366.40,230.09 367.09,230.17 367.78,230.09 368.46,230.08 369.15,230.16 369.84,230.29 370.53,230.42 371.22,230.42 371.91,230.42 372.60,230.49 373.29,230.56 373.98,230.65 374.66,230.84 375.35,230.98 376.04,231.16 376.73,231.40 377.42,231.54 378.11,231.61 378.80,231.72 379.49,231.82 380.18,231.96 380.87,232.08 381.55,232.20 382.24,232.31 382.93,232.42 383.62,232.58 384.31,232.69 385.00,232.77 385.69,232.89 386.38,233.00 387.07,233.12 387.75,233.24 388.44,233.25 389.13,233.19 389.82,233.23 390.51,233.28 391.20,233.20 391.89,233.09 392.58,233.06 393.27,233.05 393.96,233.10 394.64,233.24 395.33,233.33 396.02,233.32 396.71,233.49 397.40,233.67 398.09,233.84 398.78,234.01 399.47,234.21 400.16,234.38 400.84,234.55 401.53,234.79 402.22,234.99 402.91,235.10 403.60,235.19 404.29,235.26 404.98,235.36 405.67,235.50 406.36,235.60 407.05,235.69 407.73,235.78 408.42,235.93 409.11,236.04 409.80,236.11 410.49,236.25 411.18,236.40 411.87,236.54 412.56,236.59 413.25,236.62 413.94,236.80 414.62,236.97 415.31,237.04 416.00,237.13 416.69,237.24 417.38,237.36 418.07,237.49 418.76,237.61 419.45,237.68 420.14,237.66 420.82,237.70 421.51,237.88 422.20,238.01 422.89,237.93 423.58,237.78 424.27,237.72 424.96,237.68 425.65,237.57 426.34,237.47 427.03,237.36 427.71,237.24 428.40,237.13 429.09,237.07 429.78,237.04 430.47,236.94 431.16,236.81 431.85,236.71 432.54,236.61 433.23,236.50 433.91,236.45 434.60,236.41 435.29,236.40 435.98,236.43 436.67,236.52 437.36,236.67 438.05,236.78 438.74,236.83 439.43,236.87 440.12,236.91 440.80,237.00 441.49,237.15 442.18,237.23 442.87,237.30 443.56,237.42 444.25,237.47 444.94,237.41 445.63,237.35 446.32,237.41 447.00,237.56 447.69,237.69 448.38,237.71 449.07,237.70 449.76,237.82 450.45,237.95 451.14,237.96 451.83,238.02 452.52,238.14 453.21,238.16 453.89,238.18 454.58,238.25 455.27,238.31 455.96,238.38 456.65,238.49 457.34,238.57 458.03,238.61 458.72,238.68 459.41,238.77 460.10,238.84 460.78,238.93 461.47,239.04 462.16,239.14 462.85,239.23 463.54,239.24 464.23,239.23 464.92,239.34 465.61,239.50 466.30,239.58 466.98,239.63 467.67,239.71 468.36,239.82 469.05,239.92 469.74,240.01 470.43,240.08 471.12,240.18 471.81,240.25 472.50,240.31 473.19,240.39 473.87,240.44 474.56,240.51 475.25,240.63 475.94,240.69 476.63,240.76 477.32,240.84 478.01,240.94 478.70,241.07 479.39,241.17 480.07,241.22 480.76,241.29 481.45,241.42 482.14,241.55 482.83,241.52 483.52,241.41 484.21,241.35 484.90,241.27 485.59,241.22 486.28,241.18 486.96,241.06 487.65,240.92 488.34,240.81 489.03,240.77 489.72,240.76 490.41,240.70 491.10,240.63 491.79,240.53 492.48,240.47 493.16,240.54 493.85,240.57 494.54,240.57 495.23,240.58 495.92,240.60 496.61,240.55 497.30,240.48 497.99,240.49 498.68,240.51 499.37,240.50 500.05,240.49 500.74,240.54 501.43,240.64 502.12,240.75 502.81,240.79 503.50,240.89 504.19,241.01 504.88,241.09 505.57,241.20 506.25,241.30 506.94,241.40 507.63,241.48 508.32,241.46 509.01,241.43 509.70,241.41 510.39,241.39 511.08,241.42 511.77,241.43 512.46,241.37 513.14,241.30 513.83,241.26 514.52,241.26 515.21,241.20 515.90,241.11 516.59,241.06 517.28,241.00 517.97,240.95 518.66,240.85 519.35,240.72 520.03,240.65 520.72,240.61 521.41,240.61 522.10,240.66 522.79,240.70 523.48,240.72 524.17,240.80 524.86,240.91 525.55,240.94 526.23,240.93 526.92,240.98 527.61,241.05 528.30,241.10 528.99,241.16 529.68,241.23 530.37,241.24 531.06,241.24 531.75,241.31 532.44,241.35 533.12,241.35 533.81,241.39 534.50,241.45 535.19,241.40 535.88,241.34 536.57,241.38 537.26,241.41 537.95,241.35 538.64,241.24 539.32,241.16 540.01,241.13 540.70,241.10 541.39,241.04 542.08,241.02 542.77,241.04 543.46,241.08 544.15,241.11 544.84,241.12 545.53,241.16 546.21,241.22 546.90,241.25 547.59,241.31 548.28,241.30 548.97,241.34 549.66,241.47 550.35,241.48 551.04,241.42 551.73,241.42 552.41,241.47 553.10,241.48 553.79,241.48 554.48,241.49 555.17,241.48 555.86,241.43 556.55,241.39 557.24,241.36 557.93,241.32 558.62,241.31 559.30,241.32 559.99,241.28 560.68,241.15 561.37,241.04 562.06,241.01 562.75,240.97 563.44,240.90 564.13,240.82 564.82,240.71 565.50,240.57 566.19,240.45 566.88,240.40 567.57,240.37 568.26,240.35 568.95,240.32 569.64,240.33 570.33,240.36 571.02,240.39 571.71,240.39 572.39,240.40 573.08,240.42 573.77,240.42 574.46,240.43 575.15,240.44 575.84,240.44 576.53,240.49 577.22,240.60 577.91,240.71 578.60,240.77 579.28,240.84 579.97,240.97 580.66,241.07 581.35,241.15 582.04,241.20 582.73,241.21 583.42,241.23 584.11,241.36 584.80,241.49 585.48,241.50 586.17,241.50 586.86,241.50 587.55,241.47 588.24,241.47 588.93,241.51 589.62,241.53 590.31,241.53 591.00,241.53 591.69,241.53 592.37,241.52 593.06,241.50 593.75,241.44 594.44,241.45 595.13,241.51 595.82,241.51 596.51,241.49 597.20,241.50 597.89,241.54 598.57,241.60 599.26,241.67 599.95,241.72 600.64,241.80 601.33,241.93 602.02,241.99 602.71,242.02 603.40,242.08 604.09,242.15 604.78,242.20 605.46,242.23 606.15,242.29 606.84,242.40 607.53,242.51 608.22,242.56 608.91,242.58 609.60,242.59 610.29,242.56 610.98,242.51 611.66,242.50 612.35,242.53 613.04,242.52 613.73,242.47 614.42,242.45 615.11,242.43 615.80,242.40 616.49,242.42 617.18,242.47 617.87,242.50 618.55,242.49 619.24,242.50 619.93,242.52 620.62,242.49 621.31,242.46 622.00,242.44 622.69,242.48 623.38,242.53 624.07,242.52 624.76,242.49 625.44,242.50 626.13,242.52 626.82,242.51 627.51,242.51 628.20,242.52 628.89,242.50 629.58,242.45 630.27,242.49 630.96,242.59 631.64,242.58 632.33,242.49 633.02,242.50 633.71,242.54 634.40,242.54 635.09,242.50 635.78,242.47 636.47,242.47 637.16,242.48 637.85,242.49 638.53,242.49 639.22,242.51 639.91,242.55 640.60,242.54 641.29,242.47 641.98,242.45 642.67,242.46 643.36,242.40 644.05,242.31 644.73,242.21 645.42,242.08 646.11,241.94 646.80,241.85 647.49,241.78 648.18,241.65 648.87,241.50 649.56,241.38 650.25,241.28 650.94,241.22 651.62,241.41 652.31,241.61 653.00,241.80 653.69,241.95 654.38,242.12 655.07,242.27 655.76,242.22 656.45,242.19 657.14,242.24 657.82,242.25 658.51,242.22 659.20,242.21 659.89,242.24 660.58,242.26 661.27,242.25 661.96,242.26 662.65,242.30 663.34,242.31 664.03,242.34 664.71,242.36 665.40,242.28 666.09,242.21 666.78,242.22 667.47,242.24 668.16,242.19 668.85,242.13 669.54,242.17 670.23,242.25 670.91,242.26 671.60,242.21 672.29,242.20 672.98,242.22 673.67,242.23 674.36,242.26 675.05,242.26 675.74,242.25 676.43,242.26 677.12,242.29 677.80,242.33 678.49,242.41 679.18,242.48 679.87,242.55 680.56,242.60 681.25,242.67 681.94,242.77 682.63,242.87 683.32,242.99 684.01,243.09 684.69,243.12 685.38,243.21 686.07,243.37 686.76,243.42 687.45,243.45 688.14,243.49 688.83,243.48 689.52,243.43 690.21,243.45 690.89,243.51 691.58,243.54 692.27,243.54 692.96,243.54 693.65,243.53 694.34,243.50 695.03,243.45 695.72,243.46 696.41,243.47 697.10,243.46 697.78,243.47 698.47,243.47 699.16,243.48 699.85,243.53 700.54,243.52 701.23,243.44 701.92,243.44 702.61,243.48 703.30,243.50 703.98,243.48 704.67,243.45 705.36,243.48 706.05,243.52 706.74,243.53 707.43,243.52 708.12,243.50 708.81,243.50 709.50,243.51 710.19,243.51 710.87,243.51 711.56,243.53 712.25,243.51 712.94,243.46 713.63,243.47 714.32,243.49 715.01,243.48 715.70,243.50 716.39,243.55 717.07,243.56 717.76,243.56 718.45,243.55 719.14,243.57 719.83,243.63 720.52,243.72 721.21,243.82 721.90,243.86 722.59,243.88 723.28,243.89 723.96,243.92 724.65,243.98 725.34,244.05 726.03,244.10 726.72,244.11 727.41,244.12 728.10,244.16 728.79,244.24 729.48,244.32 730.17,244.37 730.85,244.39 731.54,244.42 732.23,244.49 732.92,244.52 733.61,244.51 734.30,244.50 734.99,244.51 735.68,244.52 736.37,244.50 737.05,244.51 737.74,244.53 738.43,244.55 739.12,244.57 739.81,244.56 740.50,244.51 741.19,244.47 741.88,244.53 742.57,244.57 743.26,244.49 743.94,244.45 744.63,244.49 745.32,244.54 746.01,244.53 746.70,244.49 747.39,244.51 748.08,244.54 748.77,244.58 749.46,244.60 750.14,244.58 750.83,244.54 751.52,244.52 752.21,244.48 752.90,244.47 753.59,244.50 754.28,244.50 754.97,244.45 755.66,244.45 756.35,244.48 757.03,244.50 757.72,244.50 758.41,244.51 759.10,244.53 759.79,244.51 760.48,244.49 761.17,244.55 761.86,244.57 762.55,244.53 763.23,244.53 763.92,244.52 764.61,244.49 765.30,244.51 765.99,244.53 766.68,244.54 767.37,244.54 768.06,244.52 768.75,244.49 769.44,244.47 770.12,244.47 770.81,244.51 771.50,244.55 772.19,244.52 772.88,244.48 773.57,244.49 774.26,244.45 774.95,244.41 775.64,244.44 776.32,244.47 777.01,244.48 777.70,244.46 778.39,244.45 779.08,244.47 779.77,244.45 780.46,244.47 781.15,244.51 781.84,244.53 782.53,244.53 783.21,244.50 783.90,244.50 784.59,244.54 785.28,244.54 785.97,244.54 786.66,244.53 787.35,244.55 788.04,244.54 788.73,244.49 789.42,244.51 790.10,244.54 790.79,244.53 791.48,244.51 792.17,244.50 792.86,244.47 793.55,244.47 794.24,244.50 794.93,244.52 795.62,244.54 796.30,244.53 796.99,244.48 797.68,244.48 798.37,244.47 799.06,244.48 799.75,244.49 800.44,244.52 801.13,244.56 801.82,244.54 802.51,244.49 803.19,244.48 803.88,244.47 804.57,244.46 805.26,244.52 805.95,244.56 806.64,244.54 807.33,244.52 808.02,244.52 808.71,244.53 809.39,244.56 810.08,244.58 810.77,244.51 811.46,244.45 812.15,244.48 812.84,244.54 813.53,244.53 814.22,244.48 814.91,244.48 815.60,244.51 816.28,244.53 816.97,244.52 817.66,244.48 818.35,244.49 819.04,244.53 819.73,244.54 820.42,244.54 821.11,244.54 821.80,244.53 822.48,244.51 823.17,244.48 823.86,244.43 824.55,244.44 825.24,244.48 825.93,244.48 826.62,244.48 827.31,244.49 828.00,244.48 828.69,244.49 829.37,244.49 830.06,244.44 830.75,244.44 831.44,244.51 832.13,244.49 832.82,244.41 833.51,244.45 834.20,244.50 834.89,244.51 835.57,244.50 836.26,244.48 836.95,244.49 837.64,244.50 838.33,244.49 839.02,244.49 839.71,244.52 840.40,244.52 841.09,244.49 841.78,244.48 842.46,244.50 843.15,244.50 843.84,244.52 844.53,244.55 845.22,244.55 845.91,244.48 846.60,244.42 847.29,244.47 847.98,244.51 848.67,244.50 849.35,244.45 850.04,244.43 850.73,244.47 851.42,244.47 852.11,244.43 852.80,244.43 853.49,244.47 854.18,244.51 854.87,244.55 855.55,244.57 856.24,244.52 856.93,244.44 857.62,244.45 858.31,244.54 859.00,244.56 859.69,244.53 860.38,244.49 861.07,244.43 861.76,244.39 862.44,244.43 863.13,244.46 863.82,244.47 864.51,244.48 865.20,244.50" fill="none" stroke="#ff0000" stroke-opacity="0.55" stroke-width="0.7"/>
<polyline points="160.40,424.00 161.09,423.04 161.78,422.43 162.47,422.90 163.16,423.19 163.84,423.75 164.53,424.35 165.22,423.54 165.91,422.82 166.60,422.51 167.29,422.57 167.98,422.81 168.67,422.60 169.36,422.53 170.05,422.91 170.73,422.77 171.42,422.78 172.11,422.77 172.80,422.40 173.49,422.11 174.18,421.94 174.87,421.92 175.56,421.73 176.25,421.31 176.93,421.08 177.62,420.89 178.31,420.50 179.00,420.06 179.69,419.84 180.38,420.08 181.07,420.66 181.76,420.86 182.45,420.57 183.14,420.75 183.82,420.92 184.51,420.81 185.20,420.32 185.89,420.00 186.58,420.38 187.27,420.78 187.96,421.05 188.65,420.72 189.34,420.43 190.03,420.64 190.71,420.54 191.40,420.30 192.09,420.53 192.78,420.70 193.47,420.84 194.16,421.24 194.85,421.39 195.54,421.23 196.23,421.14 196.91,421.26 197.60,421.49 198.29,421.53 198.98,421.37 199.67,421.40 200.36,421.27 201.05,421.01 201.74,421.13 202.43,421.41 203.12,421.60 203.80,421.57 204.49,421.48 205.18,421.70 205.87,421.80 206.56,421.89 207.25,422.30 207.94,422.51 208.63,423.05 209.32,423.77 210.00,423.74 210.69,423.16 211.38,422.77 212.07,422.39 212.76,422.54 213.45,423.09 214.14,423.62 214.83,423.81 215.52,424.31 216.21,424.96 216.89,425.56 217.58,425.63 218.27,425.33 218.96,425.26 219.65,425.60 220.34,425.66 221.03,425.45 221.72,425.45 222.41,425.53 223.09,425.53 223.78,425.58 224.47,425.50 225.16,425.32 225.85,425.45 226.54,425.67 227.23,425.83 227.92,425.92 228.61,425.96 229.30,426.35 229.98,426.57 230.67,426.61 231.36,426.65 232.05,426.65 232.74,426.75 233.43,426.54 234.12,426.00 234.81,425.55 235.50,425.75 236.18,426.19 236.87,426.57 237.56,426.44 238.25,426.29 238.94,426.15 239.63,425.93 240.32,425.68 241.01,425.68 241.70,425.66 242.39,425.31 243.07,425.20 243.76,425.37 244.45,425.41 245.14,425.48 245.83,425.61 246.52,425.44 247.21,425.01 247.90,424.60 248.59,424.42 249.28,424.49 249.96,424.68 250.65,424.90 251.34,425.10 252.03,425.38 252.72,424.99 253.41,424.48 254.10,423.94 254.79,423.58 255.48,423.20 256.16,422.59 256.85,422.00 257.54,421.51 258.23,421.09 258.92,421.26 259.61,421.70 260.30,421.79 260.99,421.63 261.68,421.49" fill="none" stroke="#ff0000" stroke-opacity="0.62" stroke-width="0.8"/>
<polyline points="262.37,421.67 263.05,422.07 263.74,422.37 264.43,422.64 265.12,422.83 265.81,423.11 266.50,423.31 267.19,423.38 267.88,423.27 268.57,423.18 269.25,423.11 269.94,422.85 270.63,422.68 271.32,422.70 272.01,422.54 272.70,422.48 273.39,422.64 274.08,422.78 274.77,422.80 275.46,423.00 276.14,423.23 276.83,423.15 277.52,422.91 278.21,422.75 278.90,422.85 279.59,422.98 280.28,422.89 280.97,422.88 281.66,422.97 282.34,422.91 283.03,422.82 283.72,422.87 284.41,422.80 285.10,422.57 285.79,422.39 286.48,422.35 287.17,422.30 287.86,422.09 288.55,421.84 289.23,421.76 289.92,421.78 290.61,421.74 291.30,421.66 291.99,421.46 292.68,421.53 293.37,421.69 294.06,422.03 294.75,422.43 295.43,422.51 296.12,422.49 296.81,422.48 297.50,422.34 298.19,422.24 298.88,422.27 299.57,422.39 300.26,422.50 300.95,422.43 301.64,422.31 302.32,422.37 303.01,422.37 303.70,422.26 304.39,422.18 305.08,422.16 305.77,422.24 306.46,422.23 307.15,422.14 307.84,422.18 308.53,422.24 309.21,422.24 309.90,422.28 310.59,422.27 311.28,422.19 311.97,422.26 312.66,422.39 313.35,422.28 314.04,422.16 314.73,422.13 315.41,422.15 316.10,422.27 316.79,422.47 317.48,422.62 318.17,422.75 318.86,422.87 319.55,423.00 320.24,422.95 320.93,422.64 321.62,422.40 322.30,422.30 322.99,422.47 323.68,422.72 324.37,422.81 325.06,422.90 325.75,422.98 326.44,423.10 327.13,423.30 327.82,423.25 328.50,423.18 329.19,423.10 329.88,422.98 330.57,422.91 331.26,422.83 331.95,422.68 332.64,422.58 333.33,422.52 334.02,422.43 334.71,422.33 335.39,422.25 336.08,422.34 336.77,422.42 337.46,422.41 338.15,422.48 338.84,422.54 339.53,422.49 340.22,422.37 340.91,422.12 341.59,421.92 342.28,421.76 342.97,421.61 343.66,421.46 344.35,421.44 345.04,421.41 345.73,421.35 346.42,421.33 347.11,421.37 347.80,421.39 348.48,421.41 349.17,421.43 349.86,421.49 350.55,421.59 351.24,421.69 351.93,421.79 352.62,421.92 353.31,422.07 354.00,422.08 354.69,422.19 355.37,422.47 356.06,422.67 356.75,422.82 357.44,422.94 358.13,422.95 358.82,423.10 359.51,423.34 360.20,423.43 360.89,423.50 361.57,423.60 362.26,423.61 362.95,423.67 363.64,423.79 364.33,423.84 365.02,423.93 365.71,423.82 366.40,423.72 367.09,423.64 367.78,423.47 368.46,423.24 369.15,423.19 369.84,423.24 370.53,423.23 371.22,423.22 371.91,423.27 372.60,423.29 373.29,423.26 373.98,423.23 374.66,423.14 375.35,423.13 376.04,423.21 376.73,423.19 377.42,423.17 378.11,423.19 378.80,423.22 379.49,423.21 380.18,423.17 380.87,423.28 381.55,423.41 382.24,423.29 382.93,423.17 383.62,423.25 384.31,423.33 385.00,423.34 385.69,423.28 386.38,423.26 387.07,423.32 387.75,423.28 388.44,423.20 389.13,423.34 389.82,423.57 390.51,423.76 391.20,423.93 391.89,424.12 392.58,424.29 393.27,424.28 393.96,424.25 394.64,424.23 395.33,424.26 396.02,424.29 396.71,424.33 397.40,424.35 398.09,424.33 398.78,424.34 399.47,424.37 400.16,424.32 400.84,424.26 401.53,424.23 402.22,424.28 402.91,424.34 403.60,424.34 404.29,424.30 404.98,424.20 405.67,424.17 406.36,424.20 407.05,424.26 407.73,424.37 408.42,424.34 409.11,424.22 409.80,424.20 410.49,424.23 411.18,424.25 411.87,424.28 412.56,424.33 413.25,424.33 413.94,424.28 414.62,424.38 415.31,424.56 416.00,424.73 416.69,424.88 417.38,425.01 418.07,425.16 418.76,425.28 419.45,425.24 420.14,425.24 420.82,425.33 421.51,425.40 422.20,425.34 422.89,425.28 423.58,425.28 424.27,425.24 424.96,425.20 425.65,425.27 426.34,425.31 427.03,425.13 427.71,424.98 428.40,424.96 429.09,424.94 429.78,424.82 430.47,424.73 431.16,424.67 431.85,424.61 432.54,424.50 433.23,424.42 433.91,424.38 434.60,424.37 435.29,424.34 435.98,424.30 436.67,424.31 437.36,424.26 438.05,424.20 438.74,424.15 439.43,424.05 440.12,424.01 440.80,424.05 441.49,424.06 442.18,424.04 442.87,424.00 443.56,423.92 444.25,423.82 444.94,423.76 445.63,423.72 446.32,423.64 447.00,423.56 447.69,423.45 448.38,423.35 449.07,423.33 449.76,423.29 450.45,423.25 451.14,423.29 451.83,423.43 452.52,423.54 453.21,423.58 453.89,423.65 454.58,423.76 455.27,423.85 455.96,423.96 456.65,424.07 457.34,424.11 458.03,424.18 458.72,424.27 459.41,424.24 460.10,424.19 460.78,424.17 461.47,424.22 462.16,424.30 462.85,424.30 463.54,424.29 464.23,424.27 464.92,424.24 465.61,424.25 466.30,424.20 466.98,424.15 467.67,424.18 468.36,424.20 469.05,424.22 469.74,424.30 470.43,424.34 471.12,424.27 471.81,424.24 472.50,424.27 473.19,424.26 473.87,424.23 474.56,424.19 475.25,424.19 475.94,424.20 476.63,424.19 477.32,424.18 478.01,424.21 478.70,424.24 479.39,424.25 480.07,424.28 480.76,424.24 481.45,424.17 482.14,424.20 482.83,424.28 483.52,424.29 484.21,424.24 484.90,424.24 485.59,424.25 486.28,424.24 486.96,424.27 487.65,424.25 488.34,424.15 489.03,424.13 489.72,424.21 490.41,424.26 491.10,424.24 491.79,424.18 492.48,424.21 493.16,424.26 493.85,424.24 494.54,424.22 495.23,424.22 495.92,424.19 496.61,424.21 497.30,424.23 497.99,424.18 498.68,424.15 499.37,424.22 500.05,424.28 500.74,424.30 501.43,424.28 502.12,424.27 502.81,424.27 503.50,424.30 504.19,424.32 504.88,424.26 505.57,424.22 506.25,424.27 506.94,424.25 507.63,424.21 508.32,424.20 509.01,424.25 509.70,424.30 510.39,424.24 511.08,424.18 511.77,424.21 512.46,424.25 513.14,424.28 513.83,424.25 514.52,424.18 515.21,424.21 515.90,424.31 516.59,424.40 517.28,424.48 517.97,424.56 518.66,424.69 519.35,424.78 520.03,424.89 520.72,425.06 521.41,425.18 522.10,425.24 522.79,425.27 523.48,425.22 524.17,425.22 524.86,425.24 525.55,425.22 526.23,425.20 526.92,425.21 527.61,425.22 528.30,425.24 528.99,425.30 529.68,425.33 530.37,425.27 531.06,425.20 531.75,425.14 532.44,425.15 533.12,425.23 533.81,425.21 534.50,425.20 535.19,425.25 535.88,425.29 536.57,425.31 537.26,425.32 537.95,425.24 538.64,425.18 539.32,425.22 540.01,425.24 540.70,425.31 541.39,425.40 542.08,425.53 542.77,425.66 543.46,425.70 544.15,425.75 544.84,425.85 545.53,425.93 546.21,426.07 546.90,426.18 547.59,426.22 548.28,426.20 548.97,426.25 549.66,426.30 550.35,426.27 551.04,426.19 551.73,426.18 552.41,426.23 553.10,426.23 553.79,426.23 554.48,426.24 555.17,426.27 555.86,426.29 556.55,426.28 557.24,426.26 557.93,426.24 558.62,426.24 559.30,426.27 559.99,426.27 560.68,426.24 561.37,426.24 562.06,426.28 562.75,426.32 563.44,426.29 564.13,426.27 564.82,426.26 565.50,426.23 566.19,426.23 566.88,426.24 567.57,426.26 568.26,426.28 568.95,426.29 569.64,426.28 570.33,426.24 571.02,426.21 571.71,426.21 572.39,426.18 573.08,426.19 573.77,426.24 574.46,426.25 575.15,426.21 575.84,426.16 576.53,426.13 577.22,426.14 577.91,426.21 578.60,426.28 579.28,426.28 579.97,426.24 580.66,426.17 581.35,426.15 582.04,426.15 582.73,426.13 583.42,426.09 584.11,426.02 584.80,425.98 585.48,425.97 586.17,425.92 586.86,425.83 587.55,425.73 588.24,425.74 588.93,425.76 589.62,425.74 590.31,425.70 591.00,425.63 591.69,425.60 592.37,425.59 593.06,425.55 593.75,425.51 594.44,425.50 595.13,425.49 595.82,425.44 596.51,425.36 597.20,425.35 597.89,425.37 598.57,425.35 599.26,425.36 599.95,425.40 600.64,425.39 601.33,425.35 602.02,425.31 602.71,425.34 603.40,425.37 604.09,425.38 604.78,425.45 605.46,425.48 606.15,425.40 606.84,425.39 607.53,425.45 608.22,425.44 608.91,425.38 609.60,425.36 610.29,425.41 610.98,425.45 611.66,425.44 612.35,425.39 613.04,425.37 613.73,425.38 614.42,425.41 615.11,425.45 615.80,425.44 616.49,425.39 617.18,425.38 617.87,425.41 618.55,425.42 619.24,425.39 619.93,425.35 620.62,425.37 621.31,425.41 622.00,425.45 622.69,425.48 623.38,425.47 624.07,425.43 624.76,425.40 625.44,425.41 626.13,425.39 626.82,425.38 627.51,425.41 628.20,425.43 628.89,425.42 629.58,425.36 630.27,425.34 630.96,425.37 631.64,425.39 632.33,425.40 633.02,425.37 633.71,425.33 634.40,425.36 635.09,425.43 635.78,425.42 636.47,425.38 637.16,425.38 637.85,425.40 638.53,425.42 639.22,425.42 639.91,425.42 640.60,425.42 641.29,425.39 641.98,425.44 642.67,425.45 643.36,425.38 644.05,425.36 644.73,425.33 645.42,425.29 646.11,425.34 646.80,425.41 647.49,425.43 648.18,425.38 648.87,425.36 649.56,425.36 650.25,425.36 650.94,425.33 651.62,425.30 652.31,425.35 653.00,425.43 653.69,425.48 654.38,425.45 655.07,425.41 655.76,425.40 656.45,425.40 657.14,425.35 657.82,425.31 658.51,425.34 659.20,425.38 659.89,425.39 660.58,425.36 661.27,425.35 661.96,425.38 662.65,425.41 663.34,425.41 664.03,425.41 664.71,425.39 665.40,425.39 666.09,425.41 666.78,425.39 667.47,425.38 668.16,425.46 668.85,425.52 669.54,425.57 670.23,425.64 670.91,425.70 671.60,425.74 672.29,425.78 672.98,425.85 673.67,425.92 674.36,425.94 675.05,425.98 675.74,426.04 676.43,426.11 677.12,426.17 677.80,426.22 678.49,426.25 679.18,426.23 679.87,426.23 680.56,426.27 681.25,426.34 681.94,426.39 682.63,426.35 683.32,426.26 684.01,426.23 684.69,426.28 685.38,426.29 686.07,426.27 686.76,426.31 687.45,426.31 688.14,426.25 688.83,426.24 689.52,426.30 690.21,426.31 690.89,426.28 691.58,426.26 692.27,426.29 692.96,426.34 693.65,426.37 694.34,426.39 695.03,426.37 695.72,426.34 696.41,426.34 697.10,426.30 697.78,426.24 698.47,426.26 699.16,426.28 699.85,426.27 700.54,426.25 701.23,426.28 701.92,426.31 702.61,426.27 703.30,426.23 703.98,426.27 704.67,426.33 705.36,426.34 706.05,426.31 706.74,426.29 707.43,426.28 708.12,426.33 708.81,426.40 709.50,426.37 710.19,426.29 710.87,426.25 711.56,426.25 712.25,426.24 712.94,426.29 713.63,426.42 714.32,426.51 715.01,426.56 715.70,426.59 716.39,426.61 717.07,426.68 717.76,426.73 718.45,426.79 719.14,426.87 719.83,426.96 720.52,427.03 721.21,427.03 721.90,427.02 722.59,427.06 723.28,427.12 723.96,427.15 724.65,427.11 725.34,427.12 726.03,427.11 726.72,427.05 727.41,426.99 728.10,426.96 728.79,426.90 729.48,426.88 730.17,426.92 730.85,426.92 731.54,426.87 732.23,426.79 732.92,426.76 733.61,426.77 734.30,426.77 734.99,426.68 735.68,426.61 736.37,426.59 737.05,426.55 737.74,426.52 738.43,426.51 739.12,426.50 739.81,426.46 740.50,426.39 741.19,426.31 741.88,426.28 742.57,426.38 743.26,426.49 743.94,426.63 744.63,426.71 745.32,426.79 746.01,426.92 746.70,427.04 747.39,427.15 748.08,427.25 748.77,427.25 749.46,427.18 750.14,427.10 750.83,427.09 751.52,427.13 752.21,427.22 752.90,427.26 753.59,427.20 754.28,427.16 754.97,427.21 755.66,427.22 756.35,427.20 757.03,427.21 757.72,427.19 758.41,427.17 759.10,427.20 759.79,427.18 760.48,427.16 761.17,427.20 761.86,427.28 762.55,427.31 763.23,427.27 763.92,427.19 764.61,427.16 765.30,427.19 765.99,427.20 766.68,427.18 767.37,427.15 768.06,427.14 768.75,427.16 769.44,427.22 770.12,427.24 770.81,427.20 771.50,427.22 772.19,427.22 772.88,427.19 773.57,427.20 774.26,427.21 774.95,427.20 775.64,427.22 776.32,427.21 777.01,427.19 777.70,427.17 778.39,427.15 779.08,427.19 779.77,427.20 780.46,427.18 781.15,427.19 781.84,427.21 782.53,427.19 783.21,427.18 783.90,427.21 784.59,427.23 785.28,427.20 785.97,427.19 786.66,427.21 787.35,427.21 788.04,427.21 788.73,427.19 789.42,427.15 790.10,427.13 790.79,427.15 791.48,427.14 792.17,427.13 792.86,427.19 793.55,427.24 794.24,427.19 794.93,427.13 795.62,427.13 796.30,427.19 796.99,427.22 797.68,427.22 798.37,427.21 799.06,427.19 799.75,427.19 800.44,427.20 801.13,427.21 801.82,427.22 802.51,427.22 803.19,427.18 803.88,427.15 804.57,427.18 805.26,427.20 805.95,427.18 806.64,427.17 807.33,427.21 808.02,427.25 808.71,427.23 809.39,427.19 810.08,427.23 810.77,427.27 811.46,427.21 812.15,427.17 812.84,427.18 813.53,427.19 814.22,427.17 814.91,427.14 815.60,427.14 816.28,427.16 816.97,427.22 817.66,427.22 818.35,427.16 819.04,427.18 819.73,427.20 820.42,427.16 821.11,427.14 821.80,427.13 822.48,427.10 823.17,427.05 823.86,427.00 824.55,426.99 825.24,426.97 825.93,426.92 826.62,426.89 827.31,426.89 828.00,426.88 828.69,426.84 829.37,426.77 830.06,426.71 830.75,426.75 831.44,426.77 832.13,426.74 832.82,426.69 833.51,426.65 834.20,426.58 834.89,426.52 835.57,426.50 836.26,426.51 836.95,426.51 837.64,426.48 838.33,426.40 839.02,426.36 839.71,426.35 840.40,426.35 841.09,426.34 841.78,426.33 842.46,426.31 843.15,426.26 843.84,426.28 844.53,426.35 845.22,426.34 845.91,426.32 846.60,426.32 847.29,426.30 847.98,426.30 848.67,426.31 849.35,426.31 850.04,426.30 850.73,426.29 851.42,426.29 852.11,426.29 852.80,426.30 853.49,426.31 854.18,426.31 854.87,426.30 855.55,426.27 856.24,426.27 856.93,426.29 857.62,426.33 858.31,426.33 859.00,426.30 859.69,426.28 860.38,426.30 861.07,426.31 861.76,426.34 862.44,426.38 863.13,426.35 863.82,426.27 864.51,426.26 865.20,426.30" fill="none" stroke="#ff0000" stroke-opacity="0.55" stroke-width="0.7"/>
<polyline points="160.20,279.75 168.00,287.25 177.00,294.75 186.00,300.75 195.00,305.70 207.00,310.80 219.00,315.00 231.00,318.45 243.00,321.00 255.00,322.80 267.00,324.30 279.00,325.50 291.00,326.40 300.00,326.90 310.00,327.60 330.00,329.00 350.00,329.80 370.00,330.40 390.00,331.00 410.00,331.20 450.00,331.60 490.00,331.80 540.00,332.40 600.00,332.60 680.00,333.00 865.30,333.00" fill="none" stroke="#ff0000" stroke-width="1.39" stroke-dasharray="5.14 2.22"/>
<polyline points="160.20,296.70 160.89,296.62 161.58,296.51 162.27,296.57 162.95,297.06 163.64,297.74 164.33,297.83 165.02,298.23 165.71,298.73 166.40,298.87 167.09,298.99 167.77,299.43 168.46,299.96 169.15,300.19 169.84,300.11 170.53,300.60 171.22,301.61 171.91,301.86 172.59,301.62 173.28,301.80 173.97,301.95 174.66,302.53 175.35,303.38 176.04,304.47 176.73,305.09 177.41,305.12 178.10,304.86 178.79,304.72 179.48,304.95 180.17,305.70 180.86,306.35 181.55,306.81 182.23,307.40 182.92,308.29 183.61,309.16 184.30,310.07 184.99,311.07 185.68,312.00 186.37,311.64 187.05,311.24 187.74,310.59 188.43,311.19 189.12,312.23 189.81,313.24 190.50,314.26 191.19,315.36 191.87,315.87 192.56,316.09 193.25,316.33 193.94,316.92 194.63,317.61 195.32,317.71 196.01,317.54 196.69,317.75 197.38,318.24 198.07,318.70 198.76,319.09 199.45,319.67 200.14,319.92 200.83,319.98 201.51,320.35 202.20,320.85 202.89,321.08 203.58,321.38 204.27,321.65 204.96,321.44 205.65,321.30 206.33,321.24 207.02,321.29 207.71,321.81 208.40,322.32 209.09,322.81 209.78,323.00 210.47,322.58 211.15,322.25 211.84,322.39 212.53,322.71 213.22,322.72 213.91,322.62 214.60,322.93 215.29,323.52 215.97,323.75 216.66,323.96 217.35,324.32 218.04,324.67 218.73,324.84 219.42,324.78 220.11,324.81 220.79,324.90 221.48,325.16 222.17,325.47 222.86,325.55 223.55,325.69 224.24,325.89 224.93,326.22 225.61,326.61 226.30,326.77 226.99,327.00 227.68,327.41 228.37,327.66 229.06,327.73 229.75,327.58 230.43,327.49 231.12,327.76 231.81,328.03 232.50,328.03 233.19,328.11 233.88,328.26 234.57,327.94 235.25,327.69 235.94,327.49 236.63,327.25 237.32,327.12 238.01,326.70 238.70,326.21 239.39,326.14 240.07,326.38 240.76,326.43 241.45,326.08 242.14,326.07 242.83,326.26 243.52,326.12 244.21,326.03 244.89,326.07 245.58,326.30 246.27,326.72 246.96,326.99 247.65,327.07 248.34,327.37 249.03,327.84 249.71,328.08 250.40,328.24 251.09,328.45 251.78,328.70 252.47,328.65 253.16,328.59 253.85,328.32 254.53,327.90 255.22,327.62 255.91,327.57 256.60,327.47 257.29,327.28 257.98,326.96 258.67,326.51 259.35,326.28 260.04,326.30 260.73,326.13 261.42,325.81 262.11,325.48 262.80,325.32 263.49,325.33 264.17,325.12 264.86,324.98 265.55,325.05 266.24,325.13 266.93,325.25 267.62,325.32 268.31,325.10 268.99,324.91 269.68,324.95 270.37,325.02 271.06,325.11 271.75,325.15 272.44,325.12 273.13,325.09 273.81,325.11 274.50,325.14 275.19,325.17 275.88,325.11 276.57,325.08 277.26,325.15 277.95,325.19 278.63,325.23 279.32,325.18 280.01,325.06 280.70,324.96 281.39,324.75 282.08,324.63 282.77,324.71 283.45,324.72 284.14,324.65 284.83,324.55 285.52,324.46 286.21,324.38 286.90,324.28 287.59,324.29 288.27,324.34 288.96,324.32 289.65,324.31 290.34,324.44 291.03,324.65 291.72,324.82 292.41,324.88 293.09,324.83 293.78,324.84 294.47,324.95 295.16,324.96 295.85,324.97 296.54,325.06 297.23,325.09 297.91,325.02 298.60,324.75 299.29,324.51 299.98,324.35 300.67,324.28 301.36,324.21 302.05,324.07 302.73,323.86 303.42,323.71 304.11,323.92 304.80,324.04 305.49,324.21 306.18,324.58 306.87,324.95 307.55,324.79 308.24,324.49 308.93,324.31 309.62,324.17 310.31,323.86 311.00,323.85 311.69,324.17 312.37,324.47 313.06,324.80 313.75,324.80 314.44,324.67 315.13,324.55 315.82,324.48 316.51,324.45 317.19,324.55 317.88,324.81 318.57,324.99 319.26,325.22 319.95,325.57 320.64,325.65 321.33,325.62 322.01,325.53 322.70,325.50 323.39,325.55 324.08,325.50 324.77,325.60 325.46,325.82 326.15,326.02 326.83,326.15 327.52,326.24 328.21,326.32 328.90,326.22 329.59,326.12 330.28,326.12 330.97,326.12 331.65,326.11 332.34,326.09 333.03,326.07 333.72,325.93 334.41,325.77 335.10,325.60 335.79,325.38 336.47,325.19 337.16,325.07 337.85,325.08 338.54,325.17 339.23,325.30 339.92,325.36 340.61,325.42 341.30,325.45 341.98,325.53 342.67,325.69 343.36,325.82 344.05,325.90 344.74,325.91 345.43,325.98 346.12,326.07 346.80,326.09 347.49,326.07 348.18,326.19 348.87,326.32 349.56,326.34 350.25,326.41 350.94,326.52 351.62,326.59 352.31,326.56 353.00,326.46 353.69,326.37 354.38,326.41 355.07,326.41 355.76,326.33 356.44,326.31 357.13,326.25 357.82,326.11 358.51,326.13 359.20,326.28 359.89,326.36 360.58,326.37 361.26,326.42 361.95,326.54 362.64,326.69 363.33,326.76 364.02,326.83 364.71,326.89 365.40,326.94 366.08,326.99 366.77,327.00 367.46,327.02 368.15,326.90 368.84,326.75 369.53,326.66 370.22,326.65 370.90,326.56 371.59,326.35 372.28,326.38 372.97,326.63 373.66,326.73 374.35,326.78 375.04,326.91 375.72,327.05 376.41,326.94 377.10,326.73 377.79,326.56 378.48,326.29 379.17,325.99 379.86,325.79 380.54,325.75 381.23,325.73 381.92,325.73 382.61,325.65 383.30,325.52 383.99,325.58 384.68,325.68 385.36,325.65 386.05,325.58 386.74,325.73 387.43,325.92 388.12,326.03 388.81,326.17 389.50,326.36 390.18,326.48 390.87,326.60 391.56,326.73 392.25,326.83 392.94,326.93 393.63,326.94 394.32,326.94 395.00,326.87 395.69,326.81 396.38,326.76 397.07,326.74 397.76,326.70 398.45,326.66 399.14,326.68 399.82,326.67 400.51,326.62 401.20,326.56 401.89,326.58 402.58,326.60 403.27,326.49 403.96,326.39 404.64,326.41 405.33,326.41 406.02,326.39 406.71,326.38 407.40,326.38 408.09,326.40 408.78,326.37 409.46,326.37 410.15,326.42 410.84,326.52 411.53,326.59 412.22,326.56 412.91,326.53 413.60,326.59 414.28,326.65 414.97,326.65 415.66,326.71 416.35,326.80 417.04,326.84 417.73,326.90 418.42,326.92 419.10,326.94 419.79,327.03 420.48,326.97 421.17,326.88 421.86,326.88 422.55,326.90 423.24,326.85 423.92,326.82 424.61,326.78 425.30,326.70 425.99,326.61 426.68,326.62 427.37,326.64 428.06,326.75 428.74,326.83 429.43,326.85 430.12,326.93 430.81,326.98 431.50,326.98 432.19,327.08 432.88,327.17 433.56,327.19 434.25,327.25 434.94,327.26 435.63,327.24 436.32,327.27 437.01,327.30 437.70,327.30 438.38,327.32 439.07,327.32 439.76,327.29 440.45,327.31 441.14,327.36 441.83,327.38 442.52,327.39 443.20,327.41 443.89,327.46 444.58,327.55 445.27,327.64 445.96,327.71 446.65,327.79 447.34,327.84 448.02,327.84 448.71,327.90 449.40,327.98 450.09,328.00 450.78,328.05 451.47,328.12 452.16,328.10 452.84,328.09 453.53,328.14 454.22,328.22 454.91,328.27 455.60,328.25 456.29,328.21 456.98,328.24 457.66,328.28 458.35,328.29 459.04,328.37 459.73,328.44 460.42,328.42 461.11,328.41 461.80,328.38 462.48,328.37 463.17,328.37 463.86,328.35 464.55,328.39 465.24,328.45 465.93,328.46 466.62,328.42 467.30,328.38 467.99,328.39 468.68,328.42 469.37,328.45 470.06,328.44 470.75,328.44 471.44,328.47 472.12,328.47 472.81,328.44 473.50,328.44 474.19,328.48 474.88,328.49 475.57,328.49 476.26,328.53 476.94,328.57 477.63,328.59 478.32,328.58 479.01,328.54 479.70,328.52 480.39,328.48 481.08,328.41 481.76,328.34 482.45,328.33 483.14,328.33 483.83,328.29 484.52,328.24 485.21,328.21 485.90,328.18 486.58,328.17 487.27,328.12 487.96,328.08 488.65,328.06 489.34,328.02 490.03,328.05 490.72,328.13 491.40,328.18 492.09,328.23 492.78,328.29 493.47,328.33 494.16,328.34 494.85,328.36 495.54,328.42 496.22,328.49 496.91,328.51 497.60,328.53 498.29,328.54 498.98,328.57 499.67,328.64 500.36,328.70 501.04,328.71 501.73,328.76 502.42,328.85 503.11,328.90 503.80,328.94 504.49,328.98 505.18,329.00 505.86,329.02 506.55,328.97 507.24,328.89 507.93,328.82 508.62,328.82 509.31,328.81 510.00,328.71 510.68,328.64 511.37,328.64 512.06,328.65 512.75,328.58 513.44,328.48 514.13,328.44 514.82,328.40 515.50,328.43 516.19,328.51 516.88,328.64 517.57,328.75 518.26,328.83 518.95,328.91 519.64,328.99 520.32,329.10 521.01,329.19 521.70,329.28 522.39,329.39 523.08,329.47 523.77,329.56 524.46,329.64 525.14,329.66 525.83,329.71 526.52,329.79 527.21,329.85 527.90,329.91 528.59,329.94 529.28,329.93 529.96,329.96 530.65,330.05 531.34,330.10 532.03,330.10 532.72,330.13 533.41,330.14 534.10,330.16 534.78,330.19 535.47,330.19 536.16,330.18 536.85,330.20 537.54,330.17 538.23,330.08 538.92,330.01 539.60,329.99 540.29,330.01 540.98,330.02 541.67,330.01 542.36,329.99 543.05,329.95 543.74,329.91 544.42,329.91 545.11,329.93 545.80,329.92 546.49,329.89 547.18,329.86 547.87,329.85 548.56,329.85 549.24,329.81 549.93,329.81 550.62,329.83 551.31,329.80 552.00,329.76 552.69,329.73 553.38,329.71 554.06,329.73 554.75,329.71 555.44,329.65 556.13,329.59 556.82,329.62 557.51,329.64 558.20,329.61 558.88,329.59 559.57,329.59 560.26,329.57 560.95,329.56 561.64,329.56 562.33,329.52 563.02,329.46 563.70,329.44 564.39,329.40 565.08,329.36 565.77,329.36 566.46,329.36 567.15,329.36 567.84,329.36 568.52,329.40 569.21,329.47 569.90,329.50 570.59,329.50 571.28,329.51 571.97,329.55 572.66,329.61 573.34,329.62 574.03,329.65 574.72,329.68 575.41,329.62 576.10,329.60 576.79,329.65 577.48,329.69 578.16,329.71 578.85,329.75 579.54,329.76 580.23,329.76 580.92,329.75 581.61,329.75 582.30,329.77 582.98,329.81 583.67,329.83 584.36,329.79 585.05,329.75 585.74,329.74 586.43,329.72 587.12,329.67 587.80,329.67 588.49,329.72 589.18,329.73 589.87,329.68 590.56,329.65 591.25,329.66 591.94,329.69 592.62,329.68 593.31,329.62 594.00,329.60 594.69,329.60 595.38,329.62 596.07,329.64 596.76,329.63 597.44,329.59 598.13,329.58 598.82,329.61 599.51,329.62 600.20,329.60 600.89,329.60 601.58,329.62 602.26,329.63 602.95,329.62 603.64,329.62 604.33,329.60 605.02,329.59 605.71,329.61 606.40,329.63 607.08,329.61 607.77,329.57 608.46,329.57 609.15,329.58 609.84,329.56 610.53,329.60 611.22,329.65 611.90,329.69 612.59,329.71 613.28,329.74 613.97,329.81 614.66,329.90 615.35,329.97 616.04,330.02 616.72,330.04 617.41,330.04 618.10,330.04 618.79,330.12 619.48,330.22 620.17,330.24 620.86,330.22 621.54,330.20 622.23,330.21 622.92,330.23 623.61,330.25 624.30,330.26 624.99,330.24 625.68,330.25 626.36,330.28 627.05,330.24 627.74,330.22 628.43,330.30 629.12,330.34 629.81,330.33 630.50,330.34 631.18,330.32 631.87,330.30 632.56,330.30 633.25,330.29 633.94,330.30 634.63,330.32 635.32,330.36 636.00,330.38 636.69,330.37 637.38,330.35 638.07,330.32 638.76,330.34 639.45,330.41 640.14,330.44 640.82,330.42 641.51,330.37 642.20,330.30 642.89,330.25 643.58,330.22 644.27,330.24 644.96,330.25 645.64,330.21 646.33,330.19 647.02,330.20 647.71,330.19 648.40,330.15 649.09,330.11 649.78,330.10 650.46,330.09 651.15,330.08 651.84,330.06 652.53,330.01 653.22,329.96 653.91,329.96 654.60,329.96 655.28,329.94 655.97,329.91 656.66,329.90 657.35,329.91 658.04,329.89 658.73,329.86 659.42,329.85 660.10,329.83 660.79,329.84 661.48,329.86 662.17,329.88 662.86,329.87 663.55,329.86 664.24,329.86 664.92,329.89 665.61,329.91 666.30,329.92 666.99,329.96 667.68,329.96 668.37,329.94 669.06,329.96 669.74,329.99 670.43,330.00 671.12,330.00 671.81,330.01 672.50,330.01 673.19,330.04 673.88,330.07 674.56,330.09 675.25,330.12 675.94,330.14 676.63,330.10 677.32,330.09 678.01,330.17 678.70,330.20 679.38,330.17 680.07,330.19 680.76,330.21 681.45,330.19 682.14,330.23 682.83,330.28 683.52,330.29 684.20,330.30 684.89,330.32 685.58,330.29 686.27,330.29 686.96,330.34 687.65,330.35 688.34,330.37 689.02,330.41 689.71,330.42 690.40,330.40 691.09,330.38 691.78,330.42 692.47,330.43 693.16,330.37 693.85,330.33 694.53,330.34 695.22,330.34 695.91,330.34 696.60,330.34 697.29,330.34 697.98,330.34 698.67,330.34 699.35,330.33 700.04,330.29 700.73,330.29 701.42,330.28 702.11,330.24 702.80,330.23 703.49,330.24 704.17,330.26 704.86,330.28 705.55,330.30 706.24,330.31 706.93,330.26 707.62,330.24 708.31,330.26 708.99,330.25 709.68,330.21 710.37,330.14 711.06,330.15 711.75,330.23 712.44,330.24 713.13,330.19 713.81,330.15 714.50,330.16 715.19,330.17 715.88,330.17 716.57,330.16 717.26,330.13 717.95,330.15 718.63,330.20 719.32,330.21 720.01,330.17 720.70,330.11 721.39,330.06 722.08,330.01 722.77,330.01 723.45,330.08 724.14,330.12 724.83,330.05 725.52,329.99 726.21,330.01 726.90,330.03 727.59,330.04 728.27,330.07 728.96,330.08 729.65,330.05 730.34,330.01 731.03,329.99 731.72,329.99 732.41,330.00 733.09,330.00 733.78,330.01 734.47,330.01 735.16,329.98 735.85,329.96 736.54,329.96 737.23,329.93 737.91,329.91 738.60,329.96 739.29,330.01 739.98,329.99 740.67,329.96 741.36,330.00 742.05,330.03 742.73,329.97 743.42,329.92 744.11,329.92 744.80,329.96 745.49,329.99 746.18,329.96 746.87,329.93 747.55,329.90 748.24,329.92 748.93,329.96 749.62,329.96 750.31,329.93 751.00,329.91 751.69,329.93 752.37,329.96 753.06,329.98 753.75,329.97 754.44,329.93 755.13,329.93 755.82,329.93 756.51,329.91 757.19,329.90 757.88,329.95 758.57,329.97 759.26,329.95 759.95,329.94 760.64,329.91 761.33,329.89 762.01,329.89 762.70,329.90 763.39,329.93 764.08,329.90 764.77,329.85 765.46,329.88 766.15,329.92 766.83,329.92 767.52,329.88 768.21,329.88 768.90,329.92 769.59,329.93 770.28,329.91 770.97,329.86 771.65,329.85 772.34,329.85 773.03,329.84 773.72,329.86 774.41,329.89 775.10,329.86 775.79,329.81 776.47,329.81 777.16,329.84 777.85,329.85 778.54,329.85 779.23,329.81 779.92,329.77 780.61,329.76 781.29,329.77 781.98,329.78 782.67,329.78 783.36,329.79 784.05,329.80 784.74,329.80 785.43,329.81 786.11,329.82 786.80,329.81 787.49,329.78 788.18,329.76 788.87,329.77 789.56,329.80 790.25,329.83 790.93,329.83 791.62,329.80 792.31,329.79 793.00,329.79 793.69,329.77 794.38,329.75 795.07,329.76 795.75,329.74 796.44,329.71 797.13,329.71 797.82,329.72 798.51,329.72 799.20,329.71 799.89,329.70 800.57,329.70 801.26,329.71 801.95,329.73 802.64,329.72 803.33,329.72 804.02,329.70 804.71,329.67 805.39,329.69 806.08,329.72 806.77,329.72 807.46,329.69 808.15,329.67 808.84,329.67 809.53,329.66 810.21,329.67 810.90,329.67 811.59,329.65 812.28,329.62 812.97,329.59 813.66,329.58 814.35,329.61 815.03,329.64 815.72,329.64 816.41,329.64 817.10,329.63 817.79,329.61 818.48,329.60 819.17,329.59 819.85,329.60 820.54,329.60 821.23,329.58 821.92,329.56 822.61,329.53 823.30,329.52 823.99,329.54 824.67,329.54 825.36,329.50 826.05,329.56 826.74,329.62 827.43,329.57 828.12,329.52 828.81,329.52 829.49,329.51 830.18,329.51 830.87,329.50 831.56,329.49 832.25,329.52 832.94,329.53 833.63,329.53 834.31,329.52 835.00,329.52 835.69,329.54 836.38,329.58 837.07,329.57 837.76,329.53 838.45,329.48 839.13,329.44 839.82,329.46 840.51,329.49 841.20,329.48 841.89,329.45 842.58,329.43 843.27,329.43 843.95,329.45 844.64,329.48 845.33,329.49 846.02,329.48 846.71,329.46 847.40,329.46 848.09,329.46 848.77,329.47 849.46,329.47 850.15,329.46 850.84,329.45 851.53,329.46 852.22,329.49 852.91,329.46 853.59,329.41 854.28,329.42 854.97,329.45 855.66,329.43 856.35,329.37 857.04,329.35 857.73,329.39 858.41,329.40 859.10,329.41 859.79,329.44 860.48,329.46 861.17,329.45 861.86,329.42 862.55,329.39 863.23,329.36 863.92,329.36 864.61,329.41 865.30,329.40" fill="none" stroke="#ff0000" stroke-width="1.39" stroke-linejoin="round"/>
<rect x="125.5" y="60.5" width="775" height="385" fill="none" stroke="#000" stroke-width="1.1"/>
<line x1="120.6" y1="435.50" x2="125.5" y2="435.50" stroke="#000" stroke-width="1.1"/>
<text transform="translate(115.00,441.30) scale(1.1,1)" x="-28.05 -20.05 -16.00 -7.96" y="0" font-size="14.2">0.00</text>
<line x1="120.6" y1="379.50" x2="125.5" y2="379.50" stroke="#000" stroke-width="1.1"/>
<text transform="translate(115.00,384.30) scale(1.1,1)" x="-28.05 -20.05 -16.00 -7.96" y="0" font-size="14.2">0.05</text>
<line x1="120.6" y1="322.50" x2="125.5" y2="322.50" stroke="#000" stroke-width="1.1"/>
<text transform="translate(115.00,328.30) scale(1.1,1)" x="-28.05 -20.05 -16.00 -7.96" y="0" font-size="14.2">0.10</text>
<line x1="120.6" y1="266.50" x2="125.5" y2="266.50" stroke="#000" stroke-width="1.1"/>
<text transform="translate(115.00,271.30) scale(1.1,1)" x="-28.05 -20.05 -16.00 -7.96" y="0" font-size="14.2">0.15</text>
<line x1="120.6" y1="209.50" x2="125.5" y2="209.50" stroke="#000" stroke-width="1.1"/>
<text transform="translate(115.00,215.30) scale(1.1,1)" x="-28.05 -20.05 -16.00 -7.96" y="0" font-size="14.2">0.20</text>
<line x1="120.6" y1="153.50" x2="125.5" y2="153.50" stroke="#000" stroke-width="1.1"/>
<text transform="translate(115.00,159.30) scale(1.1,1)" x="-28.05 -20.05 -16.00 -7.96" y="0" font-size="14.2">0.25</text>
<line x1="120.6" y1="97.50" x2="125.5" y2="97.50" stroke="#000" stroke-width="1.1"/>
<text transform="translate(115.00,102.30) scale(1.1,1)" x="-28.05 -20.05 -16.00 -7.96" y="0" font-size="14.2">0.30</text>
<line x1="160.50" y1="445.5" x2="160.50" y2="450.4" stroke="#000" stroke-width="1.1"/>
<text transform="translate(161.40,466.30) scale(1.1,1)" x="-3.95" y="0" font-size="14.2">0</text>
<line x1="298.50" y1="445.5" x2="298.50" y2="450.4" stroke="#000" stroke-width="1.1"/>
<text transform="translate(298.30,466.30) scale(1.1,1)" x="-11.98 -3.95 4.09" y="0" font-size="14.2">200</text>
<line x1="435.50" y1="445.5" x2="435.50" y2="450.4" stroke="#000" stroke-width="1.1"/>
<text transform="translate(435.60,466.30) scale(1.1,1)" x="-11.98 -3.95 4.09" y="0" font-size="14.2">400</text>
<line x1="573.50" y1="445.5" x2="573.50" y2="450.4" stroke="#000" stroke-width="1.1"/>
<text transform="translate(573.40,466.30) scale(1.1,1)" x="-11.98 -3.95 4.09" y="0" font-size="14.2">600</text>
<line x1="711.50" y1="445.5" x2="711.50" y2="450.4" stroke="#000" stroke-width="1.1"/>
<text transform="translate(710.40,466.30) scale(1.1,1)" x="-11.98 -3.95 4.09" y="0" font-size="14.2">800</text>
<line x1="848.50" y1="445.5" x2="848.50" y2="450.4" stroke="#000" stroke-width="1.1"/>
<text transform="translate(848.50,466.30) scale(1.1,1)" x="-16.00 -7.96 0.07 8.10" y="0" font-size="14.2">1000</text>
<text transform="translate(512.80,485.30) scale(1.08,1)" x="-46.10 -38.06 -30.05 -22.17 -14.96 -6.83 -2.54 2.44 10.61 13.91 22.39 27.11 30.68 38.04" y="0" font-size="14.5">epoch&#160;relative</text>
<text transform="translate(75.2,269.63) rotate(-90) scale(0.92,1)" x="0" y="0" font-size="14.5">e</text>
<text transform="translate(75.2,262.65) rotate(-90) scale(1.0,1)" x="0" y="0" font-size="14.5">r</text>
<text transform="translate(75.2,258.05) rotate(-90) scale(1.0,1)" x="0" y="0" font-size="14.5">r</text>
<text transform="translate(75.2,252.69) rotate(-90) scale(1.07,1)" x="0" y="0" font-size="14.5">o</text>
<text transform="translate(75.2,242.70) rotate(-90) scale(1.0,1)" x="0" y="0" font-size="14.5">r</text>
</svg>
</body></html>
